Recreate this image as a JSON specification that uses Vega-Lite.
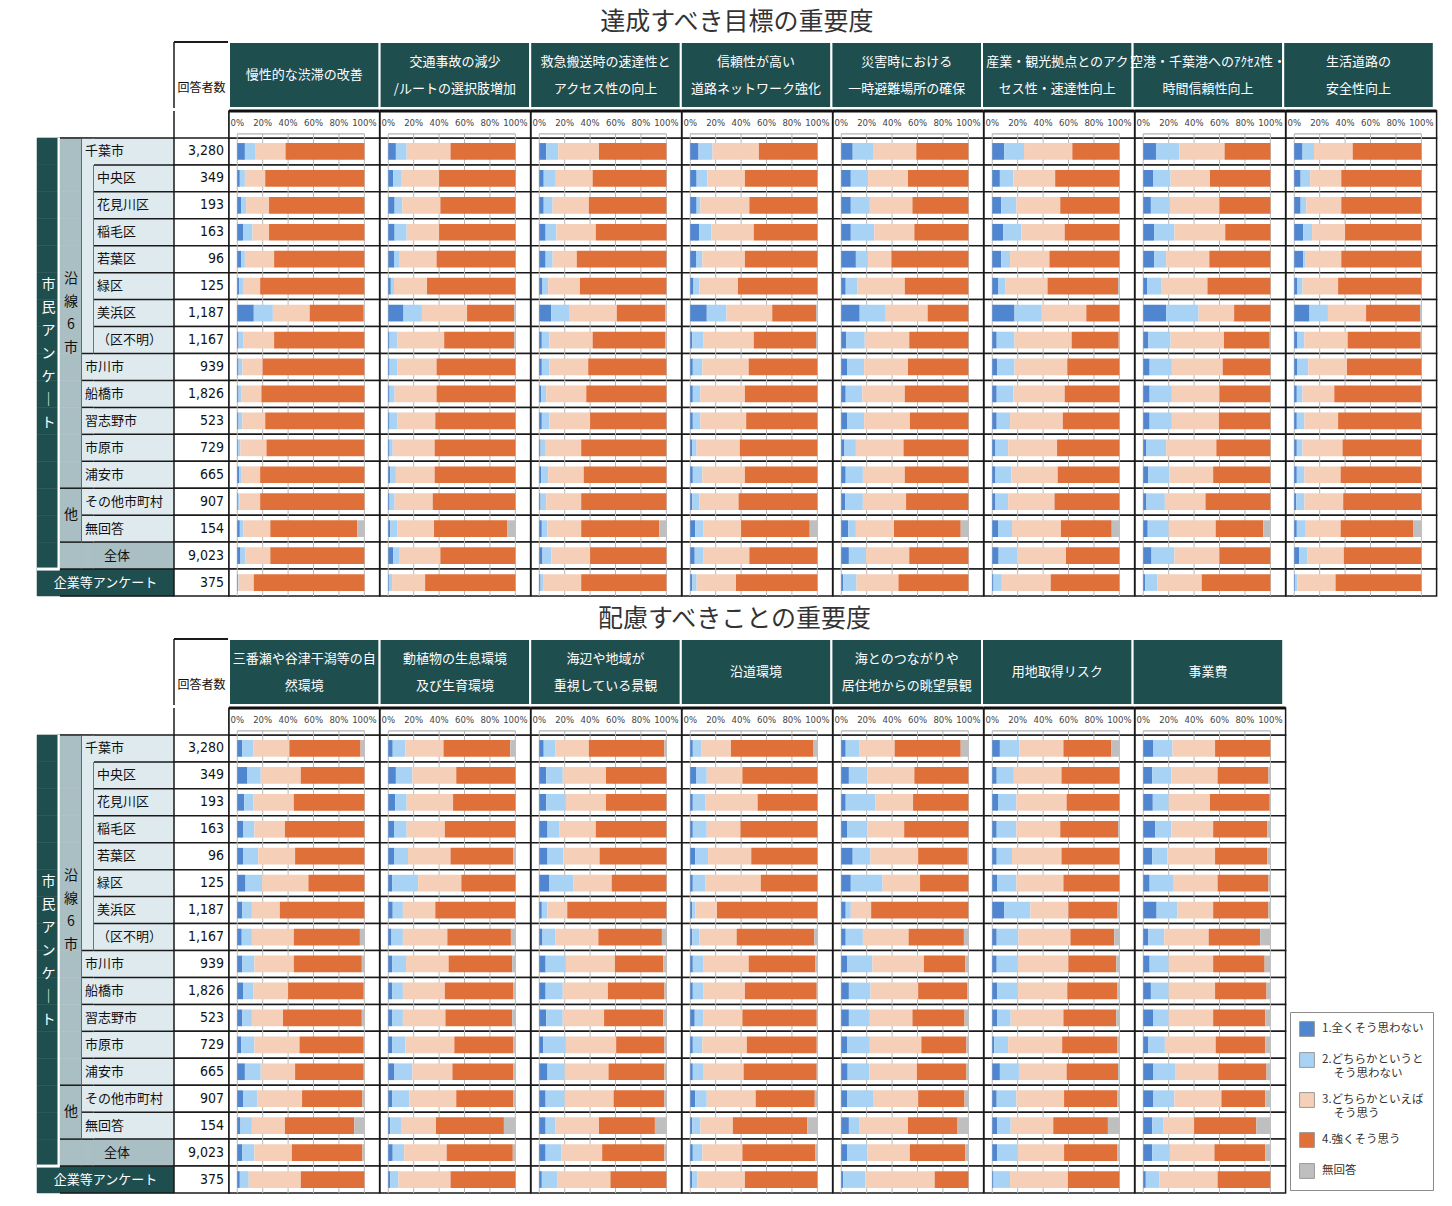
{
"$schema":"https://vega.github.io/schema/vega-lite/v6.json",
"background":"white",
"padding":{"left":35,"top":10,"right":5,"bottom":5},
"config":{"view":{"stroke":null},"font":"Noto Sans CJK JP","axis":{"disable":true},"title":{"font":"Noto Sans CJK JP","fontSize":25,"fontWeight":"normal","color":"#333333","anchor":"middle","offset":6}},
"datasets":{
"rows":[{"name":"千葉市","n":3280,"lv":"city"},{"name":"中央区","n":349,"lv":"ward"},{"name":"花見川区","n":193,"lv":"ward"},{"name":"稲毛区","n":163,"lv":"ward"},{"name":"若葉区","n":96,"lv":"ward"},{"name":"緑区","n":125,"lv":"ward"},{"name":"美浜区","n":1187,"lv":"ward"},{"name":"（区不明）","n":1167,"lv":"ward"},{"name":"市川市","n":939,"lv":"city"},{"name":"船橋市","n":1826,"lv":"city"},{"name":"習志野市","n":523,"lv":"city"},{"name":"市原市","n":729,"lv":"city"},{"name":"浦安市","n":665,"lv":"city"},{"name":"その他市町村","n":907,"lv":"other"},{"name":"無回答","n":154,"lv":"other"},{"name":"全体","n":9023,"lv":"total"},{"name":"企業等アンケート","n":375,"lv":"firm"}],
"ticks":[{"t":0,"lab":"0%"},{"t":20,"lab":"20%"},{"t":40,"lab":"40%"},{"t":60,"lab":"60%"},{"t":80,"lab":"80%"},{"t":100,"lab":"100%"}],
"goalItems":[{"item":"A1","label":"慢性的な渋滞の改善"},{"item":"A2","label":"交通事故の減少\n/ルートの選択肢増加"},{"item":"A3","label":"救急搬送時の速達性と\nアクセス性の向上"},{"item":"A4","label":"信頼性が高い\n道路ネットワーク強化"},{"item":"A5","label":"災害時における\n一時避難場所の確保"},{"item":"A6","label":"産業・観光拠点とのアク\nセス性・速達性向上"},{"item":"A7","label":"空港・千葉港へのｱｸｾｽ性・\n時間信頼性向上"},{"item":"A8","label":"生活道路の\n安全性向上"}],
"careItems":[{"item":"B1","label":"三番瀬や谷津干潟等の自\n然環境"},{"item":"B2","label":"動植物の生息環境\n及び生育環境"},{"item":"B3","label":"海辺や地域が\n重視している景観"},{"item":"B4","label":"沿道環境"},{"item":"B5","label":"海とのつながりや\n居住地からの眺望景観"},{"item":"B6","label":"用地取得リスク"},{"item":"B7","label":"事業費"}],
"goals":[
{"item":"A1","name":"千葉市","c1":6,"c2":8,"c3":24,"c4":62,"c5":0},
{"item":"A1","name":"中央区","c1":2,"c2":4,"c3":16,"c4":78,"c5":0},
{"item":"A1","name":"花見川区","c1":3,"c2":4,"c3":18,"c4":75,"c5":0},
{"item":"A1","name":"稲毛区","c1":4.5,"c2":7.5,"c3":13,"c4":75,"c5":0},
{"item":"A1","name":"若葉区","c1":3,"c2":3,"c3":23,"c4":71,"c5":0},
{"item":"A1","name":"緑区","c1":1.5,"c2":3,"c3":13.5,"c4":82,"c5":0},
{"item":"A1","name":"美浜区","c1":13,"c2":15,"c3":29,"c4":42.5,"c5":0.5},
{"item":"A1","name":"（区不明）","c1":1,"c2":4,"c3":24,"c4":71,"c5":0},
{"item":"A1","name":"市川市","c1":1,"c2":3,"c3":16,"c4":80,"c5":0},
{"item":"A1","name":"船橋市","c1":1,"c2":2,"c3":16,"c4":81,"c5":0},
{"item":"A1","name":"習志野市","c1":1,"c2":3,"c3":18,"c4":78,"c5":0},
{"item":"A1","name":"市原市","c1":0.5,"c2":2,"c3":20.5,"c4":77,"c5":0},
{"item":"A1","name":"浦安市","c1":1.5,"c2":2,"c3":14.5,"c4":82,"c5":0},
{"item":"A1","name":"その他市町村","c1":0.5,"c2":1,"c3":16.5,"c4":82,"c5":0},
{"item":"A1","name":"無回答","c1":2,"c2":3,"c3":21,"c4":68.5,"c5":5.5},
{"item":"A1","name":"全体","c1":2.5,"c2":4,"c3":19.5,"c4":74,"c5":0},
{"item":"A1","name":"企業等アンケート","c1":0.5,"c2":0.5,"c3":12,"c4":87,"c5":0},
{"item":"A2","name":"千葉市","c1":6,"c2":8.5,"c3":34.5,"c4":51,"c5":0},
{"item":"A2","name":"中央区","c1":4,"c2":6,"c3":30,"c4":60,"c5":0},
{"item":"A2","name":"花見川区","c1":5,"c2":6,"c3":30,"c4":59,"c5":0},
{"item":"A2","name":"稲毛区","c1":5,"c2":9.5,"c3":25.5,"c4":60,"c5":0},
{"item":"A2","name":"若葉区","c1":4.5,"c2":4.5,"c3":29,"c4":62,"c5":0},
{"item":"A2","name":"緑区","c1":2,"c2":2.5,"c3":26,"c4":69.5,"c5":0},
{"item":"A2","name":"美浜区","c1":12,"c2":14.5,"c3":35.5,"c4":37,"c5":1},
{"item":"A2","name":"（区不明）","c1":1,"c2":6,"c3":37,"c4":55,"c5":1},
{"item":"A2","name":"市川市","c1":1,"c2":6,"c3":31,"c4":62,"c5":0},
{"item":"A2","name":"船橋市","c1":1,"c2":4,"c3":33,"c4":62,"c5":0},
{"item":"A2","name":"習志野市","c1":1,"c2":6,"c3":30,"c4":63,"c5":0},
{"item":"A2","name":"市原市","c1":1,"c2":2.5,"c3":33,"c4":63.5,"c5":0},
{"item":"A2","name":"浦安市","c1":1.5,"c2":4.5,"c3":30.5,"c4":63.5,"c5":0},
{"item":"A2","name":"その他市町村","c1":1,"c2":4,"c3":30,"c4":65,"c5":0},
{"item":"A2","name":"無回答","c1":1.5,"c2":5.5,"c3":29,"c4":57.5,"c5":6.5},
{"item":"A2","name":"全体","c1":4,"c2":5,"c3":32,"c4":59,"c5":0},
{"item":"A2","name":"企業等アンケート","c1":0.5,"c2":2.5,"c3":26,"c4":71,"c5":0},
{"item":"A3","name":"千葉市","c1":5.5,"c2":9.5,"c3":32,"c4":53,"c5":0},
{"item":"A3","name":"中央区","c1":3.5,"c2":9.5,"c3":29,"c4":58,"c5":0},
{"item":"A3","name":"花見川区","c1":3.5,"c2":7,"c3":28.5,"c4":61,"c5":0},
{"item":"A3","name":"稲毛区","c1":5,"c2":8.5,"c3":31,"c4":55.5,"c5":0},
{"item":"A3","name":"若葉区","c1":5,"c2":5.5,"c3":19,"c4":70.5,"c5":0},
{"item":"A3","name":"緑区","c1":2.5,"c2":4.5,"c3":25,"c4":68,"c5":0},
{"item":"A3","name":"美浜区","c1":9.5,"c2":14.5,"c3":37,"c4":38,"c5":1},
{"item":"A3","name":"（区不明）","c1":2,"c2":6,"c3":34,"c4":57,"c5":1},
{"item":"A3","name":"市川市","c1":2,"c2":6,"c3":30.5,"c4":61.5,"c5":0},
{"item":"A3","name":"船橋市","c1":1.5,"c2":4,"c3":31.5,"c4":63,"c5":0},
{"item":"A3","name":"習志野市","c1":2,"c2":6,"c3":32,"c4":60,"c5":0},
{"item":"A3","name":"市原市","c1":1,"c2":3.5,"c3":28.5,"c4":67,"c5":0},
{"item":"A3","name":"浦安市","c1":1.5,"c2":5.5,"c3":28,"c4":65,"c5":0},
{"item":"A3","name":"その他市町村","c1":1,"c2":4.5,"c3":27.5,"c4":67,"c5":0},
{"item":"A3","name":"無回答","c1":2,"c2":4.5,"c3":26.5,"c4":61.5,"c5":5.5},
{"item":"A3","name":"全体","c1":2.5,"c2":7,"c3":30.5,"c4":60,"c5":0},
{"item":"A3","name":"企業等アンケート","c1":1,"c2":2.5,"c3":29.5,"c4":67,"c5":0},
{"item":"A4","name":"千葉市","c1":6.5,"c2":11,"c3":36.5,"c4":46,"c5":0},
{"item":"A4","name":"中央区","c1":5,"c2":8.5,"c3":29.5,"c4":57,"c5":0},
{"item":"A4","name":"花見川区","c1":5,"c2":3,"c3":38.5,"c4":53.5,"c5":0},
{"item":"A4","name":"稲毛区","c1":7,"c2":9.5,"c3":33.5,"c4":50,"c5":0},
{"item":"A4","name":"若葉区","c1":4.5,"c2":5,"c3":33.5,"c4":57,"c5":0},
{"item":"A4","name":"緑区","c1":2.5,"c2":4.5,"c3":30.5,"c4":62.5,"c5":0},
{"item":"A4","name":"美浜区","c1":13,"c2":15.5,"c3":36,"c4":34.5,"c5":1},
{"item":"A4","name":"（区不明）","c1":1.5,"c2":9,"c3":39.5,"c4":49,"c5":1},
{"item":"A4","name":"市川市","c1":2,"c2":7.5,"c3":36.5,"c4":54,"c5":0},
{"item":"A4","name":"船橋市","c1":2,"c2":6,"c3":35,"c4":57,"c5":0},
{"item":"A4","name":"習志野市","c1":2,"c2":6,"c3":36,"c4":56,"c5":0},
{"item":"A4","name":"市原市","c1":1.5,"c2":3.5,"c3":34,"c4":61,"c5":0},
{"item":"A4","name":"浦安市","c1":2,"c2":7.5,"c3":33.5,"c4":57,"c5":0},
{"item":"A4","name":"その他市町村","c1":1.5,"c2":5.5,"c3":31,"c4":62,"c5":0},
{"item":"A4","name":"無回答","c1":4,"c2":6.5,"c3":29.5,"c4":54,"c5":6},
{"item":"A4","name":"全体","c1":3.5,"c2":7,"c3":36,"c4":53.5,"c5":0},
{"item":"A4","name":"企業等アンケート","c1":1.5,"c2":3.5,"c3":31,"c4":64,"c5":0},
{"item":"A5","name":"千葉市","c1":9,"c2":16,"c3":34,"c4":41,"c5":0},
{"item":"A5","name":"中央区","c1":7.5,"c2":13.5,"c3":31.5,"c4":47.5,"c5":0},
{"item":"A5","name":"花見川区","c1":7.5,"c2":15,"c3":33.5,"c4":44,"c5":0},
{"item":"A5","name":"稲毛区","c1":7.5,"c2":18.5,"c3":31.5,"c4":42.5,"c5":0},
{"item":"A5","name":"若葉区","c1":11.5,"c2":9.5,"c3":18.5,"c4":60.5,"c5":0},
{"item":"A5","name":"緑区","c1":3.5,"c2":9,"c3":37.5,"c4":50,"c5":0},
{"item":"A5","name":"美浜区","c1":14.5,"c2":20.5,"c3":33,"c4":32,"c5":0},
{"item":"A5","name":"（区不明）","c1":4,"c2":14.5,"c3":35,"c4":46.5,"c5":0},
{"item":"A5","name":"市川市","c1":4.5,"c2":13.5,"c3":34.5,"c4":47.5,"c5":0},
{"item":"A5","name":"船橋市","c1":3.5,"c2":13,"c3":33.5,"c4":50,"c5":0},
{"item":"A5","name":"習志野市","c1":4.5,"c2":13.5,"c3":36,"c4":46,"c5":0},
{"item":"A5","name":"市原市","c1":2.5,"c2":9,"c3":37.5,"c4":51,"c5":0},
{"item":"A5","name":"浦安市","c1":3.5,"c2":13.5,"c3":33,"c4":50,"c5":0},
{"item":"A5","name":"その他市町村","c1":3,"c2":14,"c3":34,"c4":49,"c5":0},
{"item":"A5","name":"無回答","c1":5.5,"c2":6,"c3":30,"c4":52.5,"c5":6},
{"item":"A5","name":"全体","c1":6,"c2":13.5,"c3":34,"c4":46.5,"c5":0},
{"item":"A5","name":"企業等アンケート","c1":1.5,"c2":10.5,"c3":33,"c4":55,"c5":0},
{"item":"A6","name":"千葉市","c1":9.5,"c2":15.5,"c3":38,"c4":37,"c5":0},
{"item":"A6","name":"中央区","c1":6,"c2":10.5,"c3":33,"c4":50.5,"c5":0},
{"item":"A6","name":"花見川区","c1":7,"c2":12,"c3":34.5,"c4":46.5,"c5":0},
{"item":"A6","name":"稲毛区","c1":8.5,"c2":14.5,"c3":34,"c4":43,"c5":0},
{"item":"A6","name":"若葉区","c1":7,"c2":7,"c3":31,"c4":55,"c5":0},
{"item":"A6","name":"緑区","c1":4.5,"c2":6,"c3":33,"c4":55.5,"c5":1},
{"item":"A6","name":"美浜区","c1":17.5,"c2":21.5,"c3":35,"c4":26,"c5":0},
{"item":"A6","name":"（区不明）","c1":3.5,"c2":14,"c3":45,"c4":37,"c5":0.5},
{"item":"A6","name":"市川市","c1":4,"c2":13.5,"c3":41.5,"c4":41,"c5":0},
{"item":"A6","name":"船橋市","c1":3.5,"c2":13,"c3":40.5,"c4":43,"c5":0},
{"item":"A6","name":"習志野市","c1":3.5,"c2":10.5,"c3":41.5,"c4":44.5,"c5":0},
{"item":"A6","name":"市原市","c1":2.5,"c2":10,"c3":38.5,"c4":49,"c5":0},
{"item":"A6","name":"浦安市","c1":2.5,"c2":12.5,"c3":36.5,"c4":48.5,"c5":0},
{"item":"A6","name":"その他市町村","c1":2.5,"c2":10,"c3":36.5,"c4":51,"c5":0},
{"item":"A6","name":"無回答","c1":4.5,"c2":11,"c3":38.5,"c4":40,"c5":6},
{"item":"A6","name":"全体","c1":5,"c2":14.5,"c3":38.5,"c4":42,"c5":0},
{"item":"A6","name":"企業等アンケート","c1":1,"c2":6.5,"c3":38.5,"c4":54,"c5":0},
{"item":"A7","name":"千葉市","c1":10,"c2":18.5,"c3":35.5,"c4":36,"c5":0},
{"item":"A7","name":"中央区","c1":8,"c2":13.5,"c3":31,"c4":47.5,"c5":0},
{"item":"A7","name":"花見川区","c1":6,"c2":15,"c3":39,"c4":40,"c5":0},
{"item":"A7","name":"稲毛区","c1":8.5,"c2":16,"c3":40,"c4":35.5,"c5":0},
{"item":"A7","name":"若葉区","c1":8.5,"c2":9.5,"c3":34,"c4":48,"c5":0},
{"item":"A7","name":"緑区","c1":3,"c2":11.5,"c3":36,"c4":49.5,"c5":0},
{"item":"A7","name":"美浜区","c1":18,"c2":25.5,"c3":28,"c4":28.5,"c5":0},
{"item":"A7","name":"（区不明）","c1":4,"c2":17.5,"c3":42,"c4":36,"c5":0.5},
{"item":"A7","name":"市川市","c1":5,"c2":17.5,"c3":40,"c4":37.5,"c5":0},
{"item":"A7","name":"船橋市","c1":5,"c2":17.5,"c3":37.5,"c4":40,"c5":0},
{"item":"A7","name":"習志野市","c1":5,"c2":17.5,"c3":37,"c4":40.5,"c5":0},
{"item":"A7","name":"市原市","c1":2.5,"c2":15.5,"c3":39.5,"c4":42.5,"c5":0},
{"item":"A7","name":"浦安市","c1":4,"c2":16.5,"c3":34.5,"c4":45,"c5":0},
{"item":"A7","name":"その他市町村","c1":2.5,"c2":14.5,"c3":32,"c4":51,"c5":0},
{"item":"A7","name":"無回答","c1":3.5,"c2":16.5,"c3":37,"c4":37.5,"c5":5.5},
{"item":"A7","name":"全体","c1":6.5,"c2":18,"c3":35.5,"c4":40,"c5":0},
{"item":"A7","name":"企業等アンケート","c1":1.5,"c2":9.5,"c3":35,"c4":54,"c5":0},
{"item":"A8","name":"千葉市","c1":6.5,"c2":9,"c3":30.5,"c4":54,"c5":0},
{"item":"A8","name":"中央区","c1":5,"c2":7.5,"c3":24.5,"c4":63,"c5":0},
{"item":"A8","name":"花見川区","c1":5,"c2":4.5,"c3":27.5,"c4":63,"c5":0},
{"item":"A8","name":"稲毛区","c1":7,"c2":7,"c3":26,"c4":60,"c5":0},
{"item":"A8","name":"若葉区","c1":7,"c2":1.5,"c3":28.5,"c4":63,"c5":0},
{"item":"A8","name":"緑区","c1":2.5,"c2":4,"c3":28,"c4":65.5,"c5":0},
{"item":"A8","name":"美浜区","c1":12,"c2":14.5,"c3":30,"c4":42.5,"c5":1},
{"item":"A8","name":"（区不明）","c1":2.5,"c2":5.5,"c3":34,"c4":57.5,"c5":0.5},
{"item":"A8","name":"市川市","c1":2.5,"c2":8.5,"c3":30.5,"c4":58.5,"c5":0},
{"item":"A8","name":"船橋市","c1":2,"c2":4.5,"c3":25,"c4":68.5,"c5":0},
{"item":"A8","name":"習志野市","c1":2,"c2":6,"c3":26.5,"c4":65.5,"c5":0},
{"item":"A8","name":"市原市","c1":2,"c2":4.5,"c3":31.5,"c4":62,"c5":0},
{"item":"A8","name":"浦安市","c1":2,"c2":6,"c3":28.5,"c4":63.5,"c5":0},
{"item":"A8","name":"その他市町村","c1":1.5,"c2":6.5,"c3":30.5,"c4":61.5,"c5":0},
{"item":"A8","name":"無回答","c1":2,"c2":7,"c3":27.5,"c4":57,"c5":6.5},
{"item":"A8","name":"全体","c1":4,"c2":6.5,"c3":28.5,"c4":61,"c5":0},
{"item":"A8","name":"企業等アンケート","c1":0.5,"c2":2,"c3":30,"c4":67.5,"c5":0}
],
"care":[
{"item":"B1","name":"千葉市","c1":4,"c2":8.5,"c3":28.5,"c4":56,"c5":3},
{"item":"B1","name":"中央区","c1":8,"c2":10.5,"c3":31.5,"c4":50,"c5":0},
{"item":"B1","name":"花見川区","c1":5.5,"c2":7,"c3":32,"c4":55.5,"c5":0},
{"item":"B1","name":"稲毛区","c1":4.5,"c2":9,"c3":24,"c4":62.5,"c5":0},
{"item":"B1","name":"若葉区","c1":4.5,"c2":12,"c3":29,"c4":54.5,"c5":0},
{"item":"B1","name":"緑区","c1":6.5,"c2":13,"c3":36.5,"c4":44,"c5":0},
{"item":"B1","name":"美浜区","c1":4,"c2":7.5,"c3":22,"c4":66.5,"c5":0},
{"item":"B1","name":"（区不明）","c1":3.5,"c2":8,"c3":33,"c4":52,"c5":3.5},
{"item":"B1","name":"市川市","c1":4,"c2":9.5,"c3":31,"c4":53.5,"c5":2},
{"item":"B1","name":"船橋市","c1":4.5,"c2":8,"c3":27.5,"c4":59.5,"c5":0.5},
{"item":"B1","name":"習志野市","c1":4,"c2":7.5,"c3":24.5,"c4":62,"c5":2},
{"item":"B1","name":"市原市","c1":3,"c2":10.5,"c3":35.5,"c4":50.5,"c5":0.5},
{"item":"B1","name":"浦安市","c1":6,"c2":12.5,"c3":27,"c4":54,"c5":0.5},
{"item":"B1","name":"その他市町村","c1":4.5,"c2":11.5,"c3":35,"c4":47.5,"c5":1.5},
{"item":"B1","name":"無回答","c1":2.5,"c2":9,"c3":26,"c4":54.5,"c5":8},
{"item":"B1","name":"全体","c1":4,"c2":9.5,"c3":29.5,"c4":55.5,"c5":1.5},
{"item":"B1","name":"企業等アンケート","c1":2,"c2":7,"c3":41,"c4":50,"c5":0},
{"item":"B2","name":"千葉市","c1":3.5,"c2":10,"c3":30,"c4":52.5,"c5":4},
{"item":"B2","name":"中央区","c1":6,"c2":13,"c3":34.5,"c4":46.5,"c5":0},
{"item":"B2","name":"花見川区","c1":5.5,"c2":9,"c3":36.5,"c4":49,"c5":0},
{"item":"B2","name":"稲毛区","c1":4.5,"c2":10,"c3":30,"c4":55.5,"c5":0},
{"item":"B2","name":"若葉区","c1":4.5,"c2":11,"c3":33.5,"c4":49.5,"c5":1.5},
{"item":"B2","name":"緑区","c1":3,"c2":20.5,"c3":34,"c4":42.5,"c5":0},
{"item":"B2","name":"美浜区","c1":3.5,"c2":8,"c3":25.5,"c4":63,"c5":0},
{"item":"B2","name":"（区不明）","c1":2.5,"c2":9,"c3":35,"c4":50,"c5":3.5},
{"item":"B2","name":"市川市","c1":3,"c2":11,"c3":33.5,"c4":50,"c5":2.5},
{"item":"B2","name":"船橋市","c1":3,"c2":8.5,"c3":33,"c4":54,"c5":1.5},
{"item":"B2","name":"習志野市","c1":3,"c2":8.5,"c3":33.5,"c4":52.5,"c5":2.5},
{"item":"B2","name":"市原市","c1":3,"c2":10.5,"c3":38.5,"c4":46.5,"c5":1.5},
{"item":"B2","name":"浦安市","c1":4.5,"c2":14.5,"c3":31.5,"c4":48,"c5":1.5},
{"item":"B2","name":"その他市町村","c1":3,"c2":13.5,"c3":37,"c4":45,"c5":1.5},
{"item":"B2","name":"無回答","c1":1.5,"c2":8.5,"c3":27.5,"c4":53.5,"c5":9},
{"item":"B2","name":"全体","c1":3.5,"c2":9,"c3":33.5,"c4":52,"c5":2},
{"item":"B2","name":"企業等アンケート","c1":1.5,"c2":6.5,"c3":41,"c4":51,"c5":0},
{"item":"B3","name":"千葉市","c1":3.5,"c2":9,"c3":26.5,"c4":59.5,"c5":1.5},
{"item":"B3","name":"中央区","c1":5.5,"c2":13,"c3":34,"c4":47.5,"c5":0},
{"item":"B3","name":"花見川区","c1":5.5,"c2":15.5,"c3":31.5,"c4":47.5,"c5":0},
{"item":"B3","name":"稲毛区","c1":6.5,"c2":9.5,"c3":28.5,"c4":55.5,"c5":0},
{"item":"B3","name":"若葉区","c1":6.5,"c2":12.5,"c3":28.5,"c4":52.5,"c5":0},
{"item":"B3","name":"緑区","c1":8,"c2":19,"c3":30,"c4":43,"c5":0},
{"item":"B3","name":"美浜区","c1":2,"c2":4.5,"c3":15.5,"c4":78,"c5":0},
{"item":"B3","name":"（区不明）","c1":2.5,"c2":10,"c3":34,"c4":50,"c5":3.5},
{"item":"B3","name":"市川市","c1":5,"c2":16,"c3":38.5,"c4":38,"c5":2.5},
{"item":"B3","name":"船橋市","c1":5,"c2":13.5,"c3":35.5,"c4":44.5,"c5":1.5},
{"item":"B3","name":"習志野市","c1":5.5,"c2":13,"c3":32.5,"c4":46.5,"c5":2.5},
{"item":"B3","name":"市原市","c1":3,"c2":18,"c3":39.5,"c4":38,"c5":1.5},
{"item":"B3","name":"浦安市","c1":6.5,"c2":13.5,"c3":34.5,"c4":44,"c5":1.5},
{"item":"B3","name":"その他市町村","c1":5,"c2":15,"c3":38.5,"c4":40,"c5":1.5},
{"item":"B3","name":"無回答","c1":5,"c2":7.5,"c3":34.5,"c4":44,"c5":9},
{"item":"B3","name":"全体","c1":5,"c2":12.5,"c3":32,"c4":49,"c5":1.5},
{"item":"B3","name":"企業等アンケート","c1":2,"c2":12.5,"c3":41.5,"c4":44,"c5":0},
{"item":"B4","name":"千葉市","c1":2,"c2":6.5,"c3":23.5,"c4":65,"c5":3},
{"item":"B4","name":"中央区","c1":4.5,"c2":8.5,"c3":28,"c4":59,"c5":0},
{"item":"B4","name":"花見川区","c1":2,"c2":10,"c3":41,"c4":47,"c5":0},
{"item":"B4","name":"稲毛区","c1":2,"c2":11,"c3":26.5,"c4":60.5,"c5":0},
{"item":"B4","name":"若葉区","c1":4,"c2":10,"c3":34,"c4":52,"c5":0},
{"item":"B4","name":"緑区","c1":2,"c2":10,"c3":43.5,"c4":44.5,"c5":0},
{"item":"B4","name":"美浜区","c1":1.5,"c2":2.5,"c3":17,"c4":79,"c5":0},
{"item":"B4","name":"（区不明）","c1":1.5,"c2":5.5,"c3":29.5,"c4":61,"c5":2.5},
{"item":"B4","name":"市川市","c1":2,"c2":8.5,"c3":35.5,"c4":52.5,"c5":1.5},
{"item":"B4","name":"船橋市","c1":2,"c2":8.5,"c3":32.5,"c4":56.5,"c5":0.5},
{"item":"B4","name":"習志野市","c1":3.5,"c2":7,"c3":30.5,"c4":58.5,"c5":0.5},
{"item":"B4","name":"市原市","c1":2,"c2":7.5,"c3":35,"c4":55,"c5":0.5},
{"item":"B4","name":"浦安市","c1":2,"c2":8,"c3":32,"c4":57.5,"c5":0.5},
{"item":"B4","name":"その他市町村","c1":4,"c2":9,"c3":38.5,"c4":46.5,"c5":2},
{"item":"B4","name":"無回答","c1":1.5,"c2":6.5,"c3":25.5,"c4":58.5,"c5":8},
{"item":"B4","name":"全体","c1":2,"c2":7.5,"c3":31.5,"c4":57.5,"c5":1.5},
{"item":"B4","name":"企業等アンケート","c1":1.5,"c2":4,"c3":37.5,"c4":57,"c5":0},
{"item":"B5","name":"千葉市","c1":3.5,"c2":11,"c3":27.5,"c4":52,"c5":6},
{"item":"B5","name":"中央区","c1":6,"c2":14.5,"c3":37,"c4":42.5,"c5":0},
{"item":"B5","name":"花見川区","c1":3.5,"c2":23.5,"c3":29.5,"c4":43.5,"c5":0},
{"item":"B5","name":"稲毛区","c1":4.5,"c2":16,"c3":29,"c4":50.5,"c5":0},
{"item":"B5","name":"若葉区","c1":9,"c2":14,"c3":37.5,"c4":39,"c5":0.5},
{"item":"B5","name":"緑区","c1":7.5,"c2":25,"c3":29.5,"c4":38,"c5":0},
{"item":"B5","name":"美浜区","c1":3.5,"c2":4,"c3":16,"c4":76.5,"c5":0},
{"item":"B5","name":"（区不明）","c1":3.5,"c2":13.5,"c3":36,"c4":43.5,"c5":3.5},
{"item":"B5","name":"市川市","c1":4.5,"c2":20,"c3":40.5,"c4":32.5,"c5":2.5},
{"item":"B5","name":"船橋市","c1":6,"c2":17,"c3":37.5,"c4":38.5,"c5":1},
{"item":"B5","name":"習志野市","c1":6,"c2":16.5,"c3":33.5,"c4":41,"c5":3},
{"item":"B5","name":"市原市","c1":4.5,"c2":18,"c3":40.5,"c4":35.5,"c5":1.5},
{"item":"B5","name":"浦安市","c1":5,"c2":17,"c3":37.5,"c4":39,"c5":1.5},
{"item":"B5","name":"その他市町村","c1":4.5,"c2":20.5,"c3":35.5,"c4":36.5,"c5":3},
{"item":"B5","name":"無回答","c1":6,"c2":8,"c3":38.5,"c4":39,"c5":8.5},
{"item":"B5","name":"全体","c1":4.5,"c2":16,"c3":33.5,"c4":43.5,"c5":2.5},
{"item":"B5","name":"企業等アンケート","c1":1.5,"c2":17.5,"c3":54.5,"c4":26.5,"c5":0},
{"item":"B6","name":"千葉市","c1":6,"c2":15.5,"c3":34.5,"c4":37.5,"c5":6.5},
{"item":"B6","name":"中央区","c1":3.5,"c2":13.5,"c3":37.5,"c4":45.5,"c5":0},
{"item":"B6","name":"花見川区","c1":4.5,"c2":14.5,"c3":39.5,"c4":41.5,"c5":0},
{"item":"B6","name":"稲毛区","c1":3.5,"c2":15.5,"c3":34.5,"c4":45.5,"c5":1},
{"item":"B6","name":"若葉区","c1":3.5,"c2":12,"c3":39,"c4":45.5,"c5":0},
{"item":"B6","name":"緑区","c1":4,"c2":15,"c3":37,"c4":44,"c5":0},
{"item":"B6","name":"美浜区","c1":9.5,"c2":20.5,"c3":30,"c4":38.5,"c5":1.5},
{"item":"B6","name":"（区不明）","c1":3.5,"c2":17,"c3":41,"c4":34.5,"c5":4},
{"item":"B6","name":"市川市","c1":3.5,"c2":16.5,"c3":40,"c4":37.5,"c5":2.5},
{"item":"B6","name":"船橋市","c1":4,"c2":16,"c3":39,"c4":39.5,"c5":1.5},
{"item":"B6","name":"習志野市","c1":4,"c2":10.5,"c3":41.5,"c4":41.5,"c5":2.5},
{"item":"B6","name":"市原市","c1":1.5,"c2":11,"c3":42.5,"c4":43.5,"c5":1.5},
{"item":"B6","name":"浦安市","c1":6,"c2":15,"c3":37.5,"c4":40.5,"c5":1},
{"item":"B6","name":"その他市町村","c1":3.5,"c2":15.5,"c3":37.5,"c4":42,"c5":1.5},
{"item":"B6","name":"無回答","c1":4,"c2":10.5,"c3":33.5,"c4":43,"c5":9},
{"item":"B6","name":"全体","c1":4,"c2":16,"c3":36.5,"c4":42,"c5":1.5},
{"item":"B6","name":"企業等アンケート","c1":1,"c2":13,"c3":45.5,"c4":40.5,"c5":0},
{"item":"B7","name":"千葉市","c1":8,"c2":15,"c3":33.5,"c4":43.5,"c5":0},
{"item":"B7","name":"中央区","c1":7,"c2":15,"c3":36.5,"c4":40,"c5":1.5},
{"item":"B7","name":"花見川区","c1":7.5,"c2":12.5,"c3":32.5,"c4":47,"c5":0.5},
{"item":"B7","name":"稲毛区","c1":9.5,"c2":12.5,"c3":33,"c4":42.5,"c5":2.5},
{"item":"B7","name":"若葉区","c1":7,"c2":12,"c3":37.5,"c4":41,"c5":2.5},
{"item":"B7","name":"緑区","c1":5,"c2":19,"c3":34.5,"c4":40,"c5":1.5},
{"item":"B7","name":"美浜区","c1":10.5,"c2":16.5,"c3":28,"c4":43.5,"c5":1.5},
{"item":"B7","name":"（区不明）","c1":4,"c2":12.5,"c3":35,"c4":40.5,"c5":8},
{"item":"B7","name":"市川市","c1":5,"c2":15,"c3":35,"c4":40.5,"c5":4.5},
{"item":"B7","name":"船橋市","c1":6,"c2":14,"c3":36.5,"c4":40.5,"c5":3},
{"item":"B7","name":"習志野市","c1":8,"c2":12,"c3":35,"c4":41,"c5":4},
{"item":"B7","name":"市原市","c1":4,"c2":13,"c3":40,"c4":39,"c5":4},
{"item":"B7","name":"浦安市","c1":8,"c2":17.5,"c3":33.5,"c4":38,"c5":3},
{"item":"B7","name":"その他市町村","c1":8,"c2":16.5,"c3":37,"c4":34.5,"c5":4},
{"item":"B7","name":"無回答","c1":7,"c2":9,"c3":24,"c4":49,"c5":11},
{"item":"B7","name":"全体","c1":7,"c2":14,"c3":35,"c4":40,"c5":4},
{"item":"B7","name":"企業等アンケート","c1":2,"c2":10.5,"c3":46,"c4":41.5,"c5":0}
]
},
"spacing":10,
"resolve":{"legend":{"color":"independent"}},
"vconcat":[
{"title":{"text":"達成すべき目標の重要度"},"spacing":0,"resolve":{"legend":{"color":"independent"}},
"vconcat":[
{"hconcat":[
{"width":137,"height":66,"data":{"values":[{}]},"mark":{"type":"rect","fill":"white","opacity":0},"encoding":{"x":{"value":0},"x2":{"value":"width"},"y":{"value":0},"y2":{"value":"height"}}},
{"width":55,"height":66,"data":{"values":[{}]},"encoding":{"x":{"datum":"h","type":"nominal","scale":{"type":"band","paddingInner":0,"paddingOuter":0},"axis":null},"y":{"datum":"h","type":"nominal","scale":{"type":"band","paddingInner":0,"paddingOuter":0},"axis":null}},"layer":[
{"mark":{"type":"rect","fill":"white"}},
{"mark":{"type":"rule","stroke":"#1a1a1a","strokeWidth":1.5},"encoding":{"x":{"value":0},"y":{"value":0},"y2":{"value":"height"}}},
{"mark":{"type":"rule","stroke":"#1a1a1a","strokeWidth":1.5},"encoding":{"x":{"value":"width"},"y":{"value":0},"y2":{"value":"height"}}},
{"mark":{"type":"rule","stroke":"#1a1a1a","strokeWidth":2},"encoding":{"x":{"value":0},"x2":{"value":"width"},"y":{"value":0}}},
{"mark":{"type":"text","text":"回答者数","fontSize":12,"fill":"#111111","align":"center","baseline":"middle"},"encoding":{"y":{"datum":"h","type":"nominal","bandPosition":0.7}}}
]},
{"width":1204.8,"height":66,"data":{"name":"goalItems"},"encoding":{"x":{"field":"item","type":"nominal","sort":null,"scale":{"type":"band","paddingInner":0,"paddingOuter":0},"axis":null},"y":{"datum":"h","type":"nominal","scale":{"type":"band","paddingInner":0,"paddingOuter":0},"axis":null}},"layer":[
{"mark":{"type":"rect","fill":"#1f4e4f","stroke":"white","strokeWidth":2}},
{"transform":[{"filter":"indexof(datum.label, '\\n') >= 0"}],"mark":{"type":"text","fill":"white","fontSize":13,"lineBreak":"\n","lineHeight":27,"dy":-13.5,"align":"center","baseline":"middle"},"encoding":{"text":{"field":"label"}}},
{"transform":[{"filter":"indexof(datum.label, '\\n') < 0"}],"mark":{"type":"text","fill":"white","fontSize":13,"align":"center","baseline":"middle"},"encoding":{"text":{"field":"label"}}}
]}
],"spacing":0,"bounds":"flush"},
{"hconcat":[
{"width":23,"height":485,"layer":[
{"data":{"name":"rows"},"mark":{"type":"rect","fill":"#1f4e4f","stroke":"#1f4e4f","strokeWidth":0.5},"encoding":{"y":{"field":"name","type":"nominal","scale":{"type":"band","domain":["axis","千葉市","中央区","花見川区","稲毛区","若葉区","緑区","美浜区","（区不明）","市川市","船橋市","習志野市","市原市","浦安市","その他市町村","無回答","全体","企業等アンケート"],"paddingInner":0,"paddingOuter":0},"axis":null},"x":{"value":0},"x2":{"value":"width"}}},
{"data":{"values":[{}]},"mark":{"type":"rule","stroke":"white","strokeWidth":3},"encoding":{"y":{"datum":"企業等アンケート","type":"nominal","bandPosition":0},"x":{"value":0},"x2":{"value":"width"}}},
{"data":{"values":[{}]},"mark":{"type":"rule","stroke":"white","strokeWidth":5},"encoding":{"x":{"value":"width"},"y":{"datum":"千葉市","type":"nominal","bandPosition":0},"y2":{"datum":"全体","bandPosition":1}}},
{"data":{"values":[{}]},"mark":{"type":"text","text":"市\n民\nア\nン\nケ\n｜\nト","lineBreak":"\n","lineHeight":23,"dy":-69,"fontSize":14,"fill":"white","align":"center","baseline":"middle"},"encoding":{"x":{"datum":"c","type":"nominal","scale":{"type":"band","paddingInner":0,"paddingOuter":0},"axis":null},"y":{"datum":"（区不明）","type":"nominal","bandPosition":1}}}
]},
{"width":22,"height":485,"layer":[
{"data":{"name":"rows"},"mark":{"type":"rect","strokeWidth":0.5},"encoding":{"y":{"field":"name","type":"nominal","scale":{"type":"band","domain":["axis","千葉市","中央区","花見川区","稲毛区","若葉区","緑区","美浜区","（区不明）","市川市","船橋市","習志野市","市原市","浦安市","その他市町村","無回答","全体","企業等アンケート"],"paddingInner":0,"paddingOuter":0},"axis":null},"x":{"value":0},"x2":{"value":"width"},"fill":{"condition":{"test":"datum.lv=='firm'","value":"#1f4e4f"},"value":"#a9bfc3"},"stroke":{"condition":{"test":"datum.lv=='firm'","value":"#1f4e4f"},"value":"#a9bfc3"}}},
{"data":{"name":"rows"},"transform":[{"filter":"indexof(['千葉市','その他市町村','全体','企業等アンケート'], datum.name) >= 0"}],"mark":{"type":"rule","stroke":"#1a1a1a","strokeWidth":1.5},"encoding":{"y":{"field":"name","type":"nominal","bandPosition":0},"x":{"value":0},"x2":{"value":"width"}}},
{"data":{"values":[{}]},"mark":{"type":"rule","stroke":"#1a1a1a","strokeWidth":1.5},"encoding":{"y":{"datum":"企業等アンケート","type":"nominal","bandPosition":1},"x":{"value":0},"x2":{"value":"width"}}},
{"data":{"values":[{}]},"mark":{"type":"rule","stroke":"#1a1a1a","strokeWidth":1.5},"encoding":{"x":{"value":"width"},"y":{"datum":"千葉市","type":"nominal","bandPosition":0},"y2":{"datum":"無回答","bandPosition":1}}},
{"data":{"values":[{}]},"mark":{"type":"text","text":"沿\n線\n6\n市","lineBreak":"\n","lineHeight":23,"dy":-34.5,"fontSize":14,"fill":"#111111","align":"center","baseline":"middle"},"encoding":{"x":{"datum":"c","type":"nominal","scale":{"type":"band","paddingInner":0,"paddingOuter":0},"axis":null},"y":{"datum":"美浜区","type":"nominal","bandPosition":0.5}}},
{"data":{"values":[{}]},"mark":{"type":"text","text":"他","fontSize":14,"fill":"#111111","align":"center","baseline":"middle"},"encoding":{"x":{"datum":"c","type":"nominal"},"y":{"datum":"その他市町村","type":"nominal","bandPosition":1}}}
]},
{"width":12,"height":485,"layer":[
{"data":{"name":"rows"},"mark":{"type":"rect","strokeWidth":0.5},"encoding":{"y":{"field":"name","type":"nominal","scale":{"type":"band","domain":["axis","千葉市","中央区","花見川区","稲毛区","若葉区","緑区","美浜区","（区不明）","市川市","船橋市","習志野市","市原市","浦安市","その他市町村","無回答","全体","企業等アンケート"],"paddingInner":0,"paddingOuter":0},"axis":null},"x":{"value":0},"x2":{"value":"width"},"fill":{"condition":[{"test":"datum.lv=='firm'","value":"#1f4e4f"},{"test":"datum.lv=='total'","value":"#a9bfc3"}],"value":"#dfeaee"},"stroke":{"condition":[{"test":"datum.lv=='firm'","value":"#1f4e4f"},{"test":"datum.lv=='total'","value":"#a9bfc3"}],"value":"#dfeaee"}}},
{"data":{"name":"rows"},"transform":[{"filter":"datum.lv != 'ward'"}],"mark":{"type":"rule","stroke":"#1a1a1a","strokeWidth":1.5},"encoding":{"y":{"field":"name","type":"nominal","bandPosition":0},"x":{"value":0},"x2":{"value":"width"}}},
{"data":{"values":[{}]},"mark":{"type":"rule","stroke":"#1a1a1a","strokeWidth":1.5},"encoding":{"y":{"datum":"企業等アンケート","type":"nominal","bandPosition":1},"x":{"value":0},"x2":{"value":"width"}}},
{"data":{"values":[{}]},"mark":{"type":"rule","stroke":"#1a1a1a","strokeWidth":1.5},"encoding":{"x":{"value":"width"},"y":{"datum":"中央区","type":"nominal","bandPosition":0},"y2":{"datum":"（区不明）","bandPosition":1}}}
]},
{"width":80,"height":485,"layer":[
{"data":{"name":"rows"},"mark":{"type":"rect","strokeWidth":0.5},"encoding":{"y":{"field":"name","type":"nominal","scale":{"type":"band","domain":["axis","千葉市","中央区","花見川区","稲毛区","若葉区","緑区","美浜区","（区不明）","市川市","船橋市","習志野市","市原市","浦安市","その他市町村","無回答","全体","企業等アンケート"],"paddingInner":0,"paddingOuter":0},"axis":null},"x":{"value":0},"x2":{"value":"width"},"fill":{"condition":[{"test":"datum.lv=='firm'","value":"#1f4e4f"},{"test":"datum.lv=='total'","value":"#a9bfc3"}],"value":"#dfeaee"},"stroke":{"condition":[{"test":"datum.lv=='firm'","value":"#1f4e4f"},{"test":"datum.lv=='total'","value":"#a9bfc3"}],"value":"#dfeaee"}}},
{"data":{"name":"rows"},"mark":{"type":"rule","stroke":"#1a1a1a","strokeWidth":1.5},"encoding":{"y":{"field":"name","type":"nominal","bandPosition":0},"x":{"value":0},"x2":{"value":"width"}}},
{"data":{"values":[{}]},"mark":{"type":"rule","stroke":"#1a1a1a","strokeWidth":1.5},"encoding":{"y":{"datum":"企業等アンケート","type":"nominal","bandPosition":1},"x":{"value":0},"x2":{"value":"width"}}},
{"data":{"name":"rows"},"transform":[{"filter":"datum.lv=='city' || datum.lv=='other'"}],"mark":{"type":"text","fontSize":13,"fill":"#111111","align":"left","baseline":"middle","dx":-9},"encoding":{"y":{"field":"name","type":"nominal"},"x":{"value":0},"text":{"field":"name"}}},
{"data":{"name":"rows"},"transform":[{"filter":"datum.lv=='ward'"}],"mark":{"type":"text","fontSize":13,"fill":"#111111","align":"left","baseline":"middle","dx":3},"encoding":{"y":{"field":"name","type":"nominal"},"x":{"value":0},"text":{"field":"name"}}},
{"data":{"name":"rows"},"transform":[{"filter":"datum.lv=='total'"}],"mark":{"type":"text","fontSize":13,"fill":"#111111","align":"center","baseline":"middle","dx":23},"encoding":{"y":{"field":"name","type":"nominal"},"x":{"value":0},"text":{"field":"name"}}},
{"data":{"name":"rows"},"transform":[{"filter":"datum.lv=='firm'"}],"mark":{"type":"text","fontSize":13,"fill":"white","align":"center","baseline":"middle","dx":11.5},"encoding":{"y":{"field":"name","type":"nominal"},"x":{"value":0},"text":{"field":"name"}}}
]},
{"width":55,"height":485,"layer":[
{"data":{"name":"rows"},"mark":{"type":"rect","fill":"white","stroke":"#1a1a1a","strokeWidth":1.5},"encoding":{"y":{"field":"name","type":"nominal","scale":{"type":"band","domain":["axis","千葉市","中央区","花見川区","稲毛区","若葉区","緑区","美浜区","（区不明）","市川市","船橋市","習志野市","市原市","浦安市","その他市町村","無回答","全体","企業等アンケート"],"paddingInner":0,"paddingOuter":0},"axis":null},"x":{"value":0},"x2":{"value":"width"}}},
{"data":{"values":[{}]},"mark":{"type":"rule","stroke":"#1a1a1a","strokeWidth":1.5},"encoding":{"x":{"value":0},"y":{"datum":"axis","type":"nominal","bandPosition":0},"y2":{"datum":"千葉市","bandPosition":0}}},
{"data":{"values":[{}]},"mark":{"type":"rule","stroke":"#1a1a1a","strokeWidth":1.5},"encoding":{"x":{"value":"width"},"y":{"datum":"axis","type":"nominal","bandPosition":0},"y2":{"datum":"千葉市","bandPosition":0}}},
{"data":{"name":"rows"},"mark":{"type":"text","font":"Liberation Sans Narrow, DejaVu Sans Condensed, Liberation Sans","fontSize":14,"fill":"#111111","align":"right","baseline":"middle","dx":-5},"encoding":{"y":{"field":"name","type":"nominal"},"x":{"value":"width"},"text":{"field":"n","format":","}}}
]},
{"width":150.6,"height":485,"layer":[
{"data":{"name":"rows"},"mark":{"type":"rect","fill":"white","stroke":"#1a1a1a","strokeWidth":1.5},"encoding":{"y":{"field":"name","type":"nominal","scale":{"type":"band","domain":["axis","千葉市","中央区","花見川区","稲毛区","若葉区","緑区","美浜区","（区不明）","市川市","船橋市","習志野市","市原市","浦安市","その他市町村","無回答","全体","企業等アンケート"],"paddingInner":0,"paddingOuter":0},"axis":null},"x":{"value":0},"x2":{"value":"width"}}},
{"data":{"values":[{}]},"mark":{"type":"rect","fill":"white","stroke":"#1a1a1a","strokeWidth":1.5},"encoding":{"y":{"datum":"axis","type":"nominal"},"x":{"value":0},"x2":{"value":"width"}}},
{"data":{"name":"ticks"},"mark":{"type":"rule","stroke":"#b8b8b8","strokeWidth":1},"encoding":{"x":{"field":"t","type":"quantitative","scale":{"domain":[-6.5,112],"nice":false,"zero":false},"axis":null},"y":{"datum":"axis","type":"nominal","bandPosition":0.85},"y2":{"value":"height"}}},
{"data":{"values":[{}]},"mark":{"type":"rule","stroke":"#a0a0a0","strokeWidth":1},"encoding":{"x":{"datum":0,"type":"quantitative"},"x2":{"datum":100},"y":{"datum":"axis","type":"nominal","bandPosition":0.85}}},
{"data":{"name":"ticks"},"mark":{"type":"text","font":"Liberation Sans Narrow, DejaVu Sans Condensed, Liberation Sans","fontSize":9.5,"fill":"#444444","align":"center","baseline":"middle"},"encoding":{"x":{"field":"t","type":"quantitative"},"y":{"datum":"axis","type":"nominal","bandPosition":0.45},"text":{"field":"lab"}}},
{"data":{"values":[{}]},"mark":{"type":"rule","stroke":"#111111","strokeWidth":3},"encoding":{"y":{"datum":"axis","type":"nominal","bandPosition":0},"x":{"value":0},"x2":{"value":"width"}}},
{"data":{"name":"goals"},"transform":[{"filter":"datum.item=='A1'"},{"fold":["c1","c2","c3","c4","c5"],"as":["cat","pct"]}],"mark":{"type":"bar","height":{"band":0.62}},"encoding":{"y":{"field":"name","type":"nominal","axis":null},"x":{"field":"pct","type":"quantitative","stack":"zero","scale":{"domain":[-6.5,112],"nice":false,"zero":false},"axis":null},"color":{"field":"cat","type":"nominal","scale":{"domain":["c1","c2","c3","c4","c5"],"range":["#4f86cf","#a8d3f4","#f6cfb9","#e0703a","#bfbfbf"]},"legend":null}}}
]},
{"width":150.6,"height":485,"layer":[
{"data":{"name":"rows"},"mark":{"type":"rect","fill":"white","stroke":"#1a1a1a","strokeWidth":1.5},"encoding":{"y":{"field":"name","type":"nominal","scale":{"type":"band","domain":["axis","千葉市","中央区","花見川区","稲毛区","若葉区","緑区","美浜区","（区不明）","市川市","船橋市","習志野市","市原市","浦安市","その他市町村","無回答","全体","企業等アンケート"],"paddingInner":0,"paddingOuter":0},"axis":null},"x":{"value":0},"x2":{"value":"width"}}},
{"data":{"values":[{}]},"mark":{"type":"rect","fill":"white","stroke":"#1a1a1a","strokeWidth":1.5},"encoding":{"y":{"datum":"axis","type":"nominal"},"x":{"value":0},"x2":{"value":"width"}}},
{"data":{"name":"ticks"},"mark":{"type":"rule","stroke":"#b8b8b8","strokeWidth":1},"encoding":{"x":{"field":"t","type":"quantitative","scale":{"domain":[-6.5,112],"nice":false,"zero":false},"axis":null},"y":{"datum":"axis","type":"nominal","bandPosition":0.85},"y2":{"value":"height"}}},
{"data":{"values":[{}]},"mark":{"type":"rule","stroke":"#a0a0a0","strokeWidth":1},"encoding":{"x":{"datum":0,"type":"quantitative"},"x2":{"datum":100},"y":{"datum":"axis","type":"nominal","bandPosition":0.85}}},
{"data":{"name":"ticks"},"mark":{"type":"text","font":"Liberation Sans Narrow, DejaVu Sans Condensed, Liberation Sans","fontSize":9.5,"fill":"#444444","align":"center","baseline":"middle"},"encoding":{"x":{"field":"t","type":"quantitative"},"y":{"datum":"axis","type":"nominal","bandPosition":0.45},"text":{"field":"lab"}}},
{"data":{"values":[{}]},"mark":{"type":"rule","stroke":"#111111","strokeWidth":3},"encoding":{"y":{"datum":"axis","type":"nominal","bandPosition":0},"x":{"value":0},"x2":{"value":"width"}}},
{"data":{"name":"goals"},"transform":[{"filter":"datum.item=='A2'"},{"fold":["c1","c2","c3","c4","c5"],"as":["cat","pct"]}],"mark":{"type":"bar","height":{"band":0.62}},"encoding":{"y":{"field":"name","type":"nominal","axis":null},"x":{"field":"pct","type":"quantitative","stack":"zero","scale":{"domain":[-6.5,112],"nice":false,"zero":false},"axis":null},"color":{"field":"cat","type":"nominal","scale":{"domain":["c1","c2","c3","c4","c5"],"range":["#4f86cf","#a8d3f4","#f6cfb9","#e0703a","#bfbfbf"]},"legend":null}}}
]},
{"width":150.6,"height":485,"layer":[
{"data":{"name":"rows"},"mark":{"type":"rect","fill":"white","stroke":"#1a1a1a","strokeWidth":1.5},"encoding":{"y":{"field":"name","type":"nominal","scale":{"type":"band","domain":["axis","千葉市","中央区","花見川区","稲毛区","若葉区","緑区","美浜区","（区不明）","市川市","船橋市","習志野市","市原市","浦安市","その他市町村","無回答","全体","企業等アンケート"],"paddingInner":0,"paddingOuter":0},"axis":null},"x":{"value":0},"x2":{"value":"width"}}},
{"data":{"values":[{}]},"mark":{"type":"rect","fill":"white","stroke":"#1a1a1a","strokeWidth":1.5},"encoding":{"y":{"datum":"axis","type":"nominal"},"x":{"value":0},"x2":{"value":"width"}}},
{"data":{"name":"ticks"},"mark":{"type":"rule","stroke":"#b8b8b8","strokeWidth":1},"encoding":{"x":{"field":"t","type":"quantitative","scale":{"domain":[-6.5,112],"nice":false,"zero":false},"axis":null},"y":{"datum":"axis","type":"nominal","bandPosition":0.85},"y2":{"value":"height"}}},
{"data":{"values":[{}]},"mark":{"type":"rule","stroke":"#a0a0a0","strokeWidth":1},"encoding":{"x":{"datum":0,"type":"quantitative"},"x2":{"datum":100},"y":{"datum":"axis","type":"nominal","bandPosition":0.85}}},
{"data":{"name":"ticks"},"mark":{"type":"text","font":"Liberation Sans Narrow, DejaVu Sans Condensed, Liberation Sans","fontSize":9.5,"fill":"#444444","align":"center","baseline":"middle"},"encoding":{"x":{"field":"t","type":"quantitative"},"y":{"datum":"axis","type":"nominal","bandPosition":0.45},"text":{"field":"lab"}}},
{"data":{"values":[{}]},"mark":{"type":"rule","stroke":"#111111","strokeWidth":3},"encoding":{"y":{"datum":"axis","type":"nominal","bandPosition":0},"x":{"value":0},"x2":{"value":"width"}}},
{"data":{"name":"goals"},"transform":[{"filter":"datum.item=='A3'"},{"fold":["c1","c2","c3","c4","c5"],"as":["cat","pct"]}],"mark":{"type":"bar","height":{"band":0.62}},"encoding":{"y":{"field":"name","type":"nominal","axis":null},"x":{"field":"pct","type":"quantitative","stack":"zero","scale":{"domain":[-6.5,112],"nice":false,"zero":false},"axis":null},"color":{"field":"cat","type":"nominal","scale":{"domain":["c1","c2","c3","c4","c5"],"range":["#4f86cf","#a8d3f4","#f6cfb9","#e0703a","#bfbfbf"]},"legend":null}}}
]},
{"width":150.6,"height":485,"layer":[
{"data":{"name":"rows"},"mark":{"type":"rect","fill":"white","stroke":"#1a1a1a","strokeWidth":1.5},"encoding":{"y":{"field":"name","type":"nominal","scale":{"type":"band","domain":["axis","千葉市","中央区","花見川区","稲毛区","若葉区","緑区","美浜区","（区不明）","市川市","船橋市","習志野市","市原市","浦安市","その他市町村","無回答","全体","企業等アンケート"],"paddingInner":0,"paddingOuter":0},"axis":null},"x":{"value":0},"x2":{"value":"width"}}},
{"data":{"values":[{}]},"mark":{"type":"rect","fill":"white","stroke":"#1a1a1a","strokeWidth":1.5},"encoding":{"y":{"datum":"axis","type":"nominal"},"x":{"value":0},"x2":{"value":"width"}}},
{"data":{"name":"ticks"},"mark":{"type":"rule","stroke":"#b8b8b8","strokeWidth":1},"encoding":{"x":{"field":"t","type":"quantitative","scale":{"domain":[-6.5,112],"nice":false,"zero":false},"axis":null},"y":{"datum":"axis","type":"nominal","bandPosition":0.85},"y2":{"value":"height"}}},
{"data":{"values":[{}]},"mark":{"type":"rule","stroke":"#a0a0a0","strokeWidth":1},"encoding":{"x":{"datum":0,"type":"quantitative"},"x2":{"datum":100},"y":{"datum":"axis","type":"nominal","bandPosition":0.85}}},
{"data":{"name":"ticks"},"mark":{"type":"text","font":"Liberation Sans Narrow, DejaVu Sans Condensed, Liberation Sans","fontSize":9.5,"fill":"#444444","align":"center","baseline":"middle"},"encoding":{"x":{"field":"t","type":"quantitative"},"y":{"datum":"axis","type":"nominal","bandPosition":0.45},"text":{"field":"lab"}}},
{"data":{"values":[{}]},"mark":{"type":"rule","stroke":"#111111","strokeWidth":3},"encoding":{"y":{"datum":"axis","type":"nominal","bandPosition":0},"x":{"value":0},"x2":{"value":"width"}}},
{"data":{"name":"goals"},"transform":[{"filter":"datum.item=='A4'"},{"fold":["c1","c2","c3","c4","c5"],"as":["cat","pct"]}],"mark":{"type":"bar","height":{"band":0.62}},"encoding":{"y":{"field":"name","type":"nominal","axis":null},"x":{"field":"pct","type":"quantitative","stack":"zero","scale":{"domain":[-6.5,112],"nice":false,"zero":false},"axis":null},"color":{"field":"cat","type":"nominal","scale":{"domain":["c1","c2","c3","c4","c5"],"range":["#4f86cf","#a8d3f4","#f6cfb9","#e0703a","#bfbfbf"]},"legend":null}}}
]},
{"width":150.6,"height":485,"layer":[
{"data":{"name":"rows"},"mark":{"type":"rect","fill":"white","stroke":"#1a1a1a","strokeWidth":1.5},"encoding":{"y":{"field":"name","type":"nominal","scale":{"type":"band","domain":["axis","千葉市","中央区","花見川区","稲毛区","若葉区","緑区","美浜区","（区不明）","市川市","船橋市","習志野市","市原市","浦安市","その他市町村","無回答","全体","企業等アンケート"],"paddingInner":0,"paddingOuter":0},"axis":null},"x":{"value":0},"x2":{"value":"width"}}},
{"data":{"values":[{}]},"mark":{"type":"rect","fill":"white","stroke":"#1a1a1a","strokeWidth":1.5},"encoding":{"y":{"datum":"axis","type":"nominal"},"x":{"value":0},"x2":{"value":"width"}}},
{"data":{"name":"ticks"},"mark":{"type":"rule","stroke":"#b8b8b8","strokeWidth":1},"encoding":{"x":{"field":"t","type":"quantitative","scale":{"domain":[-6.5,112],"nice":false,"zero":false},"axis":null},"y":{"datum":"axis","type":"nominal","bandPosition":0.85},"y2":{"value":"height"}}},
{"data":{"values":[{}]},"mark":{"type":"rule","stroke":"#a0a0a0","strokeWidth":1},"encoding":{"x":{"datum":0,"type":"quantitative"},"x2":{"datum":100},"y":{"datum":"axis","type":"nominal","bandPosition":0.85}}},
{"data":{"name":"ticks"},"mark":{"type":"text","font":"Liberation Sans Narrow, DejaVu Sans Condensed, Liberation Sans","fontSize":9.5,"fill":"#444444","align":"center","baseline":"middle"},"encoding":{"x":{"field":"t","type":"quantitative"},"y":{"datum":"axis","type":"nominal","bandPosition":0.45},"text":{"field":"lab"}}},
{"data":{"values":[{}]},"mark":{"type":"rule","stroke":"#111111","strokeWidth":3},"encoding":{"y":{"datum":"axis","type":"nominal","bandPosition":0},"x":{"value":0},"x2":{"value":"width"}}},
{"data":{"name":"goals"},"transform":[{"filter":"datum.item=='A5'"},{"fold":["c1","c2","c3","c4","c5"],"as":["cat","pct"]}],"mark":{"type":"bar","height":{"band":0.62}},"encoding":{"y":{"field":"name","type":"nominal","axis":null},"x":{"field":"pct","type":"quantitative","stack":"zero","scale":{"domain":[-6.5,112],"nice":false,"zero":false},"axis":null},"color":{"field":"cat","type":"nominal","scale":{"domain":["c1","c2","c3","c4","c5"],"range":["#4f86cf","#a8d3f4","#f6cfb9","#e0703a","#bfbfbf"]},"legend":null}}}
]},
{"width":150.6,"height":485,"layer":[
{"data":{"name":"rows"},"mark":{"type":"rect","fill":"white","stroke":"#1a1a1a","strokeWidth":1.5},"encoding":{"y":{"field":"name","type":"nominal","scale":{"type":"band","domain":["axis","千葉市","中央区","花見川区","稲毛区","若葉区","緑区","美浜区","（区不明）","市川市","船橋市","習志野市","市原市","浦安市","その他市町村","無回答","全体","企業等アンケート"],"paddingInner":0,"paddingOuter":0},"axis":null},"x":{"value":0},"x2":{"value":"width"}}},
{"data":{"values":[{}]},"mark":{"type":"rect","fill":"white","stroke":"#1a1a1a","strokeWidth":1.5},"encoding":{"y":{"datum":"axis","type":"nominal"},"x":{"value":0},"x2":{"value":"width"}}},
{"data":{"name":"ticks"},"mark":{"type":"rule","stroke":"#b8b8b8","strokeWidth":1},"encoding":{"x":{"field":"t","type":"quantitative","scale":{"domain":[-6.5,112],"nice":false,"zero":false},"axis":null},"y":{"datum":"axis","type":"nominal","bandPosition":0.85},"y2":{"value":"height"}}},
{"data":{"values":[{}]},"mark":{"type":"rule","stroke":"#a0a0a0","strokeWidth":1},"encoding":{"x":{"datum":0,"type":"quantitative"},"x2":{"datum":100},"y":{"datum":"axis","type":"nominal","bandPosition":0.85}}},
{"data":{"name":"ticks"},"mark":{"type":"text","font":"Liberation Sans Narrow, DejaVu Sans Condensed, Liberation Sans","fontSize":9.5,"fill":"#444444","align":"center","baseline":"middle"},"encoding":{"x":{"field":"t","type":"quantitative"},"y":{"datum":"axis","type":"nominal","bandPosition":0.45},"text":{"field":"lab"}}},
{"data":{"values":[{}]},"mark":{"type":"rule","stroke":"#111111","strokeWidth":3},"encoding":{"y":{"datum":"axis","type":"nominal","bandPosition":0},"x":{"value":0},"x2":{"value":"width"}}},
{"data":{"name":"goals"},"transform":[{"filter":"datum.item=='A6'"},{"fold":["c1","c2","c3","c4","c5"],"as":["cat","pct"]}],"mark":{"type":"bar","height":{"band":0.62}},"encoding":{"y":{"field":"name","type":"nominal","axis":null},"x":{"field":"pct","type":"quantitative","stack":"zero","scale":{"domain":[-6.5,112],"nice":false,"zero":false},"axis":null},"color":{"field":"cat","type":"nominal","scale":{"domain":["c1","c2","c3","c4","c5"],"range":["#4f86cf","#a8d3f4","#f6cfb9","#e0703a","#bfbfbf"]},"legend":null}}}
]},
{"width":150.6,"height":485,"layer":[
{"data":{"name":"rows"},"mark":{"type":"rect","fill":"white","stroke":"#1a1a1a","strokeWidth":1.5},"encoding":{"y":{"field":"name","type":"nominal","scale":{"type":"band","domain":["axis","千葉市","中央区","花見川区","稲毛区","若葉区","緑区","美浜区","（区不明）","市川市","船橋市","習志野市","市原市","浦安市","その他市町村","無回答","全体","企業等アンケート"],"paddingInner":0,"paddingOuter":0},"axis":null},"x":{"value":0},"x2":{"value":"width"}}},
{"data":{"values":[{}]},"mark":{"type":"rect","fill":"white","stroke":"#1a1a1a","strokeWidth":1.5},"encoding":{"y":{"datum":"axis","type":"nominal"},"x":{"value":0},"x2":{"value":"width"}}},
{"data":{"name":"ticks"},"mark":{"type":"rule","stroke":"#b8b8b8","strokeWidth":1},"encoding":{"x":{"field":"t","type":"quantitative","scale":{"domain":[-6.5,112],"nice":false,"zero":false},"axis":null},"y":{"datum":"axis","type":"nominal","bandPosition":0.85},"y2":{"value":"height"}}},
{"data":{"values":[{}]},"mark":{"type":"rule","stroke":"#a0a0a0","strokeWidth":1},"encoding":{"x":{"datum":0,"type":"quantitative"},"x2":{"datum":100},"y":{"datum":"axis","type":"nominal","bandPosition":0.85}}},
{"data":{"name":"ticks"},"mark":{"type":"text","font":"Liberation Sans Narrow, DejaVu Sans Condensed, Liberation Sans","fontSize":9.5,"fill":"#444444","align":"center","baseline":"middle"},"encoding":{"x":{"field":"t","type":"quantitative"},"y":{"datum":"axis","type":"nominal","bandPosition":0.45},"text":{"field":"lab"}}},
{"data":{"values":[{}]},"mark":{"type":"rule","stroke":"#111111","strokeWidth":3},"encoding":{"y":{"datum":"axis","type":"nominal","bandPosition":0},"x":{"value":0},"x2":{"value":"width"}}},
{"data":{"name":"goals"},"transform":[{"filter":"datum.item=='A7'"},{"fold":["c1","c2","c3","c4","c5"],"as":["cat","pct"]}],"mark":{"type":"bar","height":{"band":0.62}},"encoding":{"y":{"field":"name","type":"nominal","axis":null},"x":{"field":"pct","type":"quantitative","stack":"zero","scale":{"domain":[-6.5,112],"nice":false,"zero":false},"axis":null},"color":{"field":"cat","type":"nominal","scale":{"domain":["c1","c2","c3","c4","c5"],"range":["#4f86cf","#a8d3f4","#f6cfb9","#e0703a","#bfbfbf"]},"legend":null}}}
]},
{"width":150.6,"height":485,"layer":[
{"data":{"name":"rows"},"mark":{"type":"rect","fill":"white","stroke":"#1a1a1a","strokeWidth":1.5},"encoding":{"y":{"field":"name","type":"nominal","scale":{"type":"band","domain":["axis","千葉市","中央区","花見川区","稲毛区","若葉区","緑区","美浜区","（区不明）","市川市","船橋市","習志野市","市原市","浦安市","その他市町村","無回答","全体","企業等アンケート"],"paddingInner":0,"paddingOuter":0},"axis":null},"x":{"value":0},"x2":{"value":"width"}}},
{"data":{"values":[{}]},"mark":{"type":"rect","fill":"white","stroke":"#1a1a1a","strokeWidth":1.5},"encoding":{"y":{"datum":"axis","type":"nominal"},"x":{"value":0},"x2":{"value":"width"}}},
{"data":{"name":"ticks"},"mark":{"type":"rule","stroke":"#b8b8b8","strokeWidth":1},"encoding":{"x":{"field":"t","type":"quantitative","scale":{"domain":[-6.5,112],"nice":false,"zero":false},"axis":null},"y":{"datum":"axis","type":"nominal","bandPosition":0.85},"y2":{"value":"height"}}},
{"data":{"values":[{}]},"mark":{"type":"rule","stroke":"#a0a0a0","strokeWidth":1},"encoding":{"x":{"datum":0,"type":"quantitative"},"x2":{"datum":100},"y":{"datum":"axis","type":"nominal","bandPosition":0.85}}},
{"data":{"name":"ticks"},"mark":{"type":"text","font":"Liberation Sans Narrow, DejaVu Sans Condensed, Liberation Sans","fontSize":9.5,"fill":"#444444","align":"center","baseline":"middle"},"encoding":{"x":{"field":"t","type":"quantitative"},"y":{"datum":"axis","type":"nominal","bandPosition":0.45},"text":{"field":"lab"}}},
{"data":{"values":[{}]},"mark":{"type":"rule","stroke":"#111111","strokeWidth":3},"encoding":{"y":{"datum":"axis","type":"nominal","bandPosition":0},"x":{"value":0},"x2":{"value":"width"}}},
{"data":{"name":"goals"},"transform":[{"filter":"datum.item=='A8'"},{"fold":["c1","c2","c3","c4","c5"],"as":["cat","pct"]}],"mark":{"type":"bar","height":{"band":0.62}},"encoding":{"y":{"field":"name","type":"nominal","axis":null},"x":{"field":"pct","type":"quantitative","stack":"zero","scale":{"domain":[-6.5,112],"nice":false,"zero":false},"axis":null},"color":{"field":"cat","type":"nominal","scale":{"domain":["c1","c2","c3","c4","c5"],"range":["#4f86cf","#a8d3f4","#f6cfb9","#e0703a","#bfbfbf"]},"legend":null}}}
]}
],"spacing":0,"bounds":"flush","resolve":{"legend":{"color":"independent"}}}
]},
{"title":{"text":"配慮すべきことの重要度"},"spacing":0,"resolve":{"legend":{"color":"independent"}},
"vconcat":[
{"hconcat":[
{"width":137,"height":66,"data":{"values":[{}]},"mark":{"type":"rect","fill":"white","opacity":0},"encoding":{"x":{"value":0},"x2":{"value":"width"},"y":{"value":0},"y2":{"value":"height"}}},
{"width":55,"height":66,"data":{"values":[{}]},"encoding":{"x":{"datum":"h","type":"nominal","scale":{"type":"band","paddingInner":0,"paddingOuter":0},"axis":null},"y":{"datum":"h","type":"nominal","scale":{"type":"band","paddingInner":0,"paddingOuter":0},"axis":null}},"layer":[
{"mark":{"type":"rect","fill":"white"}},
{"mark":{"type":"rule","stroke":"#1a1a1a","strokeWidth":1.5},"encoding":{"x":{"value":0},"y":{"value":0},"y2":{"value":"height"}}},
{"mark":{"type":"rule","stroke":"#1a1a1a","strokeWidth":1.5},"encoding":{"x":{"value":"width"},"y":{"value":0},"y2":{"value":"height"}}},
{"mark":{"type":"rule","stroke":"#1a1a1a","strokeWidth":2},"encoding":{"x":{"value":0},"x2":{"value":"width"},"y":{"value":0}}},
{"mark":{"type":"text","text":"回答者数","fontSize":12,"fill":"#111111","align":"center","baseline":"middle"},"encoding":{"y":{"datum":"h","type":"nominal","bandPosition":0.7}}}
]},
{"width":1054.2,"height":66,"data":{"name":"careItems"},"encoding":{"x":{"field":"item","type":"nominal","sort":null,"scale":{"type":"band","paddingInner":0,"paddingOuter":0},"axis":null},"y":{"datum":"h","type":"nominal","scale":{"type":"band","paddingInner":0,"paddingOuter":0},"axis":null}},"layer":[
{"mark":{"type":"rect","fill":"#1f4e4f","stroke":"white","strokeWidth":2}},
{"transform":[{"filter":"indexof(datum.label, '\\n') >= 0"}],"mark":{"type":"text","fill":"white","fontSize":13,"lineBreak":"\n","lineHeight":27,"dy":-13.5,"align":"center","baseline":"middle"},"encoding":{"text":{"field":"label"}}},
{"transform":[{"filter":"indexof(datum.label, '\\n') < 0"}],"mark":{"type":"text","fill":"white","fontSize":13,"align":"center","baseline":"middle"},"encoding":{"text":{"field":"label"}}}
]}
],"spacing":0,"bounds":"flush"},
{"hconcat":[
{"width":23,"height":485,"layer":[
{"data":{"name":"rows"},"mark":{"type":"rect","fill":"#1f4e4f","stroke":"#1f4e4f","strokeWidth":0.5},"encoding":{"y":{"field":"name","type":"nominal","scale":{"type":"band","domain":["axis","千葉市","中央区","花見川区","稲毛区","若葉区","緑区","美浜区","（区不明）","市川市","船橋市","習志野市","市原市","浦安市","その他市町村","無回答","全体","企業等アンケート"],"paddingInner":0,"paddingOuter":0},"axis":null},"x":{"value":0},"x2":{"value":"width"}}},
{"data":{"values":[{}]},"mark":{"type":"rule","stroke":"white","strokeWidth":3},"encoding":{"y":{"datum":"企業等アンケート","type":"nominal","bandPosition":0},"x":{"value":0},"x2":{"value":"width"}}},
{"data":{"values":[{}]},"mark":{"type":"rule","stroke":"white","strokeWidth":5},"encoding":{"x":{"value":"width"},"y":{"datum":"千葉市","type":"nominal","bandPosition":0},"y2":{"datum":"全体","bandPosition":1}}},
{"data":{"values":[{}]},"mark":{"type":"text","text":"市\n民\nア\nン\nケ\n｜\nト","lineBreak":"\n","lineHeight":23,"dy":-69,"fontSize":14,"fill":"white","align":"center","baseline":"middle"},"encoding":{"x":{"datum":"c","type":"nominal","scale":{"type":"band","paddingInner":0,"paddingOuter":0},"axis":null},"y":{"datum":"（区不明）","type":"nominal","bandPosition":1}}}
]},
{"width":22,"height":485,"layer":[
{"data":{"name":"rows"},"mark":{"type":"rect","strokeWidth":0.5},"encoding":{"y":{"field":"name","type":"nominal","scale":{"type":"band","domain":["axis","千葉市","中央区","花見川区","稲毛区","若葉区","緑区","美浜区","（区不明）","市川市","船橋市","習志野市","市原市","浦安市","その他市町村","無回答","全体","企業等アンケート"],"paddingInner":0,"paddingOuter":0},"axis":null},"x":{"value":0},"x2":{"value":"width"},"fill":{"condition":{"test":"datum.lv=='firm'","value":"#1f4e4f"},"value":"#a9bfc3"},"stroke":{"condition":{"test":"datum.lv=='firm'","value":"#1f4e4f"},"value":"#a9bfc3"}}},
{"data":{"name":"rows"},"transform":[{"filter":"indexof(['千葉市','その他市町村','全体','企業等アンケート'], datum.name) >= 0"}],"mark":{"type":"rule","stroke":"#1a1a1a","strokeWidth":1.5},"encoding":{"y":{"field":"name","type":"nominal","bandPosition":0},"x":{"value":0},"x2":{"value":"width"}}},
{"data":{"values":[{}]},"mark":{"type":"rule","stroke":"#1a1a1a","strokeWidth":1.5},"encoding":{"y":{"datum":"企業等アンケート","type":"nominal","bandPosition":1},"x":{"value":0},"x2":{"value":"width"}}},
{"data":{"values":[{}]},"mark":{"type":"rule","stroke":"#1a1a1a","strokeWidth":1.5},"encoding":{"x":{"value":"width"},"y":{"datum":"千葉市","type":"nominal","bandPosition":0},"y2":{"datum":"無回答","bandPosition":1}}},
{"data":{"values":[{}]},"mark":{"type":"text","text":"沿\n線\n6\n市","lineBreak":"\n","lineHeight":23,"dy":-34.5,"fontSize":14,"fill":"#111111","align":"center","baseline":"middle"},"encoding":{"x":{"datum":"c","type":"nominal","scale":{"type":"band","paddingInner":0,"paddingOuter":0},"axis":null},"y":{"datum":"美浜区","type":"nominal","bandPosition":0.5}}},
{"data":{"values":[{}]},"mark":{"type":"text","text":"他","fontSize":14,"fill":"#111111","align":"center","baseline":"middle"},"encoding":{"x":{"datum":"c","type":"nominal"},"y":{"datum":"その他市町村","type":"nominal","bandPosition":1}}}
]},
{"width":12,"height":485,"layer":[
{"data":{"name":"rows"},"mark":{"type":"rect","strokeWidth":0.5},"encoding":{"y":{"field":"name","type":"nominal","scale":{"type":"band","domain":["axis","千葉市","中央区","花見川区","稲毛区","若葉区","緑区","美浜区","（区不明）","市川市","船橋市","習志野市","市原市","浦安市","その他市町村","無回答","全体","企業等アンケート"],"paddingInner":0,"paddingOuter":0},"axis":null},"x":{"value":0},"x2":{"value":"width"},"fill":{"condition":[{"test":"datum.lv=='firm'","value":"#1f4e4f"},{"test":"datum.lv=='total'","value":"#a9bfc3"}],"value":"#dfeaee"},"stroke":{"condition":[{"test":"datum.lv=='firm'","value":"#1f4e4f"},{"test":"datum.lv=='total'","value":"#a9bfc3"}],"value":"#dfeaee"}}},
{"data":{"name":"rows"},"transform":[{"filter":"datum.lv != 'ward'"}],"mark":{"type":"rule","stroke":"#1a1a1a","strokeWidth":1.5},"encoding":{"y":{"field":"name","type":"nominal","bandPosition":0},"x":{"value":0},"x2":{"value":"width"}}},
{"data":{"values":[{}]},"mark":{"type":"rule","stroke":"#1a1a1a","strokeWidth":1.5},"encoding":{"y":{"datum":"企業等アンケート","type":"nominal","bandPosition":1},"x":{"value":0},"x2":{"value":"width"}}},
{"data":{"values":[{}]},"mark":{"type":"rule","stroke":"#1a1a1a","strokeWidth":1.5},"encoding":{"x":{"value":"width"},"y":{"datum":"中央区","type":"nominal","bandPosition":0},"y2":{"datum":"（区不明）","bandPosition":1}}}
]},
{"width":80,"height":485,"layer":[
{"data":{"name":"rows"},"mark":{"type":"rect","strokeWidth":0.5},"encoding":{"y":{"field":"name","type":"nominal","scale":{"type":"band","domain":["axis","千葉市","中央区","花見川区","稲毛区","若葉区","緑区","美浜区","（区不明）","市川市","船橋市","習志野市","市原市","浦安市","その他市町村","無回答","全体","企業等アンケート"],"paddingInner":0,"paddingOuter":0},"axis":null},"x":{"value":0},"x2":{"value":"width"},"fill":{"condition":[{"test":"datum.lv=='firm'","value":"#1f4e4f"},{"test":"datum.lv=='total'","value":"#a9bfc3"}],"value":"#dfeaee"},"stroke":{"condition":[{"test":"datum.lv=='firm'","value":"#1f4e4f"},{"test":"datum.lv=='total'","value":"#a9bfc3"}],"value":"#dfeaee"}}},
{"data":{"name":"rows"},"mark":{"type":"rule","stroke":"#1a1a1a","strokeWidth":1.5},"encoding":{"y":{"field":"name","type":"nominal","bandPosition":0},"x":{"value":0},"x2":{"value":"width"}}},
{"data":{"values":[{}]},"mark":{"type":"rule","stroke":"#1a1a1a","strokeWidth":1.5},"encoding":{"y":{"datum":"企業等アンケート","type":"nominal","bandPosition":1},"x":{"value":0},"x2":{"value":"width"}}},
{"data":{"name":"rows"},"transform":[{"filter":"datum.lv=='city' || datum.lv=='other'"}],"mark":{"type":"text","fontSize":13,"fill":"#111111","align":"left","baseline":"middle","dx":-9},"encoding":{"y":{"field":"name","type":"nominal"},"x":{"value":0},"text":{"field":"name"}}},
{"data":{"name":"rows"},"transform":[{"filter":"datum.lv=='ward'"}],"mark":{"type":"text","fontSize":13,"fill":"#111111","align":"left","baseline":"middle","dx":3},"encoding":{"y":{"field":"name","type":"nominal"},"x":{"value":0},"text":{"field":"name"}}},
{"data":{"name":"rows"},"transform":[{"filter":"datum.lv=='total'"}],"mark":{"type":"text","fontSize":13,"fill":"#111111","align":"center","baseline":"middle","dx":23},"encoding":{"y":{"field":"name","type":"nominal"},"x":{"value":0},"text":{"field":"name"}}},
{"data":{"name":"rows"},"transform":[{"filter":"datum.lv=='firm'"}],"mark":{"type":"text","fontSize":13,"fill":"white","align":"center","baseline":"middle","dx":11.5},"encoding":{"y":{"field":"name","type":"nominal"},"x":{"value":0},"text":{"field":"name"}}}
]},
{"width":55,"height":485,"layer":[
{"data":{"name":"rows"},"mark":{"type":"rect","fill":"white","stroke":"#1a1a1a","strokeWidth":1.5},"encoding":{"y":{"field":"name","type":"nominal","scale":{"type":"band","domain":["axis","千葉市","中央区","花見川区","稲毛区","若葉区","緑区","美浜区","（区不明）","市川市","船橋市","習志野市","市原市","浦安市","その他市町村","無回答","全体","企業等アンケート"],"paddingInner":0,"paddingOuter":0},"axis":null},"x":{"value":0},"x2":{"value":"width"}}},
{"data":{"values":[{}]},"mark":{"type":"rule","stroke":"#1a1a1a","strokeWidth":1.5},"encoding":{"x":{"value":0},"y":{"datum":"axis","type":"nominal","bandPosition":0},"y2":{"datum":"千葉市","bandPosition":0}}},
{"data":{"values":[{}]},"mark":{"type":"rule","stroke":"#1a1a1a","strokeWidth":1.5},"encoding":{"x":{"value":"width"},"y":{"datum":"axis","type":"nominal","bandPosition":0},"y2":{"datum":"千葉市","bandPosition":0}}},
{"data":{"name":"rows"},"mark":{"type":"text","font":"Liberation Sans Narrow, DejaVu Sans Condensed, Liberation Sans","fontSize":14,"fill":"#111111","align":"right","baseline":"middle","dx":-5},"encoding":{"y":{"field":"name","type":"nominal"},"x":{"value":"width"},"text":{"field":"n","format":","}}}
]},
{"width":150.6,"height":485,"layer":[
{"data":{"name":"rows"},"mark":{"type":"rect","fill":"white","stroke":"#1a1a1a","strokeWidth":1.5},"encoding":{"y":{"field":"name","type":"nominal","scale":{"type":"band","domain":["axis","千葉市","中央区","花見川区","稲毛区","若葉区","緑区","美浜区","（区不明）","市川市","船橋市","習志野市","市原市","浦安市","その他市町村","無回答","全体","企業等アンケート"],"paddingInner":0,"paddingOuter":0},"axis":null},"x":{"value":0},"x2":{"value":"width"}}},
{"data":{"values":[{}]},"mark":{"type":"rect","fill":"white","stroke":"#1a1a1a","strokeWidth":1.5},"encoding":{"y":{"datum":"axis","type":"nominal"},"x":{"value":0},"x2":{"value":"width"}}},
{"data":{"name":"ticks"},"mark":{"type":"rule","stroke":"#b8b8b8","strokeWidth":1},"encoding":{"x":{"field":"t","type":"quantitative","scale":{"domain":[-6.5,112],"nice":false,"zero":false},"axis":null},"y":{"datum":"axis","type":"nominal","bandPosition":0.85},"y2":{"value":"height"}}},
{"data":{"values":[{}]},"mark":{"type":"rule","stroke":"#a0a0a0","strokeWidth":1},"encoding":{"x":{"datum":0,"type":"quantitative"},"x2":{"datum":100},"y":{"datum":"axis","type":"nominal","bandPosition":0.85}}},
{"data":{"name":"ticks"},"mark":{"type":"text","font":"Liberation Sans Narrow, DejaVu Sans Condensed, Liberation Sans","fontSize":9.5,"fill":"#444444","align":"center","baseline":"middle"},"encoding":{"x":{"field":"t","type":"quantitative"},"y":{"datum":"axis","type":"nominal","bandPosition":0.45},"text":{"field":"lab"}}},
{"data":{"values":[{}]},"mark":{"type":"rule","stroke":"#111111","strokeWidth":3},"encoding":{"y":{"datum":"axis","type":"nominal","bandPosition":0},"x":{"value":0},"x2":{"value":"width"}}},
{"data":{"name":"care"},"transform":[{"filter":"datum.item=='B1'"},{"fold":["c1","c2","c3","c4","c5"],"as":["cat","pct"]}],"mark":{"type":"bar","height":{"band":0.62}},"encoding":{"y":{"field":"name","type":"nominal","axis":null},"x":{"field":"pct","type":"quantitative","stack":"zero","scale":{"domain":[-6.5,112],"nice":false,"zero":false},"axis":null},"color":{"field":"cat","type":"nominal","scale":{"domain":["c1","c2","c3","c4","c5"],"range":["#4f86cf","#a8d3f4","#f6cfb9","#e0703a","#bfbfbf"]},"legend":null}}}
]},
{"width":150.6,"height":485,"layer":[
{"data":{"name":"rows"},"mark":{"type":"rect","fill":"white","stroke":"#1a1a1a","strokeWidth":1.5},"encoding":{"y":{"field":"name","type":"nominal","scale":{"type":"band","domain":["axis","千葉市","中央区","花見川区","稲毛区","若葉区","緑区","美浜区","（区不明）","市川市","船橋市","習志野市","市原市","浦安市","その他市町村","無回答","全体","企業等アンケート"],"paddingInner":0,"paddingOuter":0},"axis":null},"x":{"value":0},"x2":{"value":"width"}}},
{"data":{"values":[{}]},"mark":{"type":"rect","fill":"white","stroke":"#1a1a1a","strokeWidth":1.5},"encoding":{"y":{"datum":"axis","type":"nominal"},"x":{"value":0},"x2":{"value":"width"}}},
{"data":{"name":"ticks"},"mark":{"type":"rule","stroke":"#b8b8b8","strokeWidth":1},"encoding":{"x":{"field":"t","type":"quantitative","scale":{"domain":[-6.5,112],"nice":false,"zero":false},"axis":null},"y":{"datum":"axis","type":"nominal","bandPosition":0.85},"y2":{"value":"height"}}},
{"data":{"values":[{}]},"mark":{"type":"rule","stroke":"#a0a0a0","strokeWidth":1},"encoding":{"x":{"datum":0,"type":"quantitative"},"x2":{"datum":100},"y":{"datum":"axis","type":"nominal","bandPosition":0.85}}},
{"data":{"name":"ticks"},"mark":{"type":"text","font":"Liberation Sans Narrow, DejaVu Sans Condensed, Liberation Sans","fontSize":9.5,"fill":"#444444","align":"center","baseline":"middle"},"encoding":{"x":{"field":"t","type":"quantitative"},"y":{"datum":"axis","type":"nominal","bandPosition":0.45},"text":{"field":"lab"}}},
{"data":{"values":[{}]},"mark":{"type":"rule","stroke":"#111111","strokeWidth":3},"encoding":{"y":{"datum":"axis","type":"nominal","bandPosition":0},"x":{"value":0},"x2":{"value":"width"}}},
{"data":{"name":"care"},"transform":[{"filter":"datum.item=='B2'"},{"fold":["c1","c2","c3","c4","c5"],"as":["cat","pct"]}],"mark":{"type":"bar","height":{"band":0.62}},"encoding":{"y":{"field":"name","type":"nominal","axis":null},"x":{"field":"pct","type":"quantitative","stack":"zero","scale":{"domain":[-6.5,112],"nice":false,"zero":false},"axis":null},"color":{"field":"cat","type":"nominal","scale":{"domain":["c1","c2","c3","c4","c5"],"range":["#4f86cf","#a8d3f4","#f6cfb9","#e0703a","#bfbfbf"]},"legend":null}}}
]},
{"width":150.6,"height":485,"layer":[
{"data":{"name":"rows"},"mark":{"type":"rect","fill":"white","stroke":"#1a1a1a","strokeWidth":1.5},"encoding":{"y":{"field":"name","type":"nominal","scale":{"type":"band","domain":["axis","千葉市","中央区","花見川区","稲毛区","若葉区","緑区","美浜区","（区不明）","市川市","船橋市","習志野市","市原市","浦安市","その他市町村","無回答","全体","企業等アンケート"],"paddingInner":0,"paddingOuter":0},"axis":null},"x":{"value":0},"x2":{"value":"width"}}},
{"data":{"values":[{}]},"mark":{"type":"rect","fill":"white","stroke":"#1a1a1a","strokeWidth":1.5},"encoding":{"y":{"datum":"axis","type":"nominal"},"x":{"value":0},"x2":{"value":"width"}}},
{"data":{"name":"ticks"},"mark":{"type":"rule","stroke":"#b8b8b8","strokeWidth":1},"encoding":{"x":{"field":"t","type":"quantitative","scale":{"domain":[-6.5,112],"nice":false,"zero":false},"axis":null},"y":{"datum":"axis","type":"nominal","bandPosition":0.85},"y2":{"value":"height"}}},
{"data":{"values":[{}]},"mark":{"type":"rule","stroke":"#a0a0a0","strokeWidth":1},"encoding":{"x":{"datum":0,"type":"quantitative"},"x2":{"datum":100},"y":{"datum":"axis","type":"nominal","bandPosition":0.85}}},
{"data":{"name":"ticks"},"mark":{"type":"text","font":"Liberation Sans Narrow, DejaVu Sans Condensed, Liberation Sans","fontSize":9.5,"fill":"#444444","align":"center","baseline":"middle"},"encoding":{"x":{"field":"t","type":"quantitative"},"y":{"datum":"axis","type":"nominal","bandPosition":0.45},"text":{"field":"lab"}}},
{"data":{"values":[{}]},"mark":{"type":"rule","stroke":"#111111","strokeWidth":3},"encoding":{"y":{"datum":"axis","type":"nominal","bandPosition":0},"x":{"value":0},"x2":{"value":"width"}}},
{"data":{"name":"care"},"transform":[{"filter":"datum.item=='B3'"},{"fold":["c1","c2","c3","c4","c5"],"as":["cat","pct"]}],"mark":{"type":"bar","height":{"band":0.62}},"encoding":{"y":{"field":"name","type":"nominal","axis":null},"x":{"field":"pct","type":"quantitative","stack":"zero","scale":{"domain":[-6.5,112],"nice":false,"zero":false},"axis":null},"color":{"field":"cat","type":"nominal","scale":{"domain":["c1","c2","c3","c4","c5"],"range":["#4f86cf","#a8d3f4","#f6cfb9","#e0703a","#bfbfbf"]},"legend":null}}}
]},
{"width":150.6,"height":485,"layer":[
{"data":{"name":"rows"},"mark":{"type":"rect","fill":"white","stroke":"#1a1a1a","strokeWidth":1.5},"encoding":{"y":{"field":"name","type":"nominal","scale":{"type":"band","domain":["axis","千葉市","中央区","花見川区","稲毛区","若葉区","緑区","美浜区","（区不明）","市川市","船橋市","習志野市","市原市","浦安市","その他市町村","無回答","全体","企業等アンケート"],"paddingInner":0,"paddingOuter":0},"axis":null},"x":{"value":0},"x2":{"value":"width"}}},
{"data":{"values":[{}]},"mark":{"type":"rect","fill":"white","stroke":"#1a1a1a","strokeWidth":1.5},"encoding":{"y":{"datum":"axis","type":"nominal"},"x":{"value":0},"x2":{"value":"width"}}},
{"data":{"name":"ticks"},"mark":{"type":"rule","stroke":"#b8b8b8","strokeWidth":1},"encoding":{"x":{"field":"t","type":"quantitative","scale":{"domain":[-6.5,112],"nice":false,"zero":false},"axis":null},"y":{"datum":"axis","type":"nominal","bandPosition":0.85},"y2":{"value":"height"}}},
{"data":{"values":[{}]},"mark":{"type":"rule","stroke":"#a0a0a0","strokeWidth":1},"encoding":{"x":{"datum":0,"type":"quantitative"},"x2":{"datum":100},"y":{"datum":"axis","type":"nominal","bandPosition":0.85}}},
{"data":{"name":"ticks"},"mark":{"type":"text","font":"Liberation Sans Narrow, DejaVu Sans Condensed, Liberation Sans","fontSize":9.5,"fill":"#444444","align":"center","baseline":"middle"},"encoding":{"x":{"field":"t","type":"quantitative"},"y":{"datum":"axis","type":"nominal","bandPosition":0.45},"text":{"field":"lab"}}},
{"data":{"values":[{}]},"mark":{"type":"rule","stroke":"#111111","strokeWidth":3},"encoding":{"y":{"datum":"axis","type":"nominal","bandPosition":0},"x":{"value":0},"x2":{"value":"width"}}},
{"data":{"name":"care"},"transform":[{"filter":"datum.item=='B4'"},{"fold":["c1","c2","c3","c4","c5"],"as":["cat","pct"]}],"mark":{"type":"bar","height":{"band":0.62}},"encoding":{"y":{"field":"name","type":"nominal","axis":null},"x":{"field":"pct","type":"quantitative","stack":"zero","scale":{"domain":[-6.5,112],"nice":false,"zero":false},"axis":null},"color":{"field":"cat","type":"nominal","scale":{"domain":["c1","c2","c3","c4","c5"],"range":["#4f86cf","#a8d3f4","#f6cfb9","#e0703a","#bfbfbf"]},"legend":null}}}
]},
{"width":150.6,"height":485,"layer":[
{"data":{"name":"rows"},"mark":{"type":"rect","fill":"white","stroke":"#1a1a1a","strokeWidth":1.5},"encoding":{"y":{"field":"name","type":"nominal","scale":{"type":"band","domain":["axis","千葉市","中央区","花見川区","稲毛区","若葉区","緑区","美浜区","（区不明）","市川市","船橋市","習志野市","市原市","浦安市","その他市町村","無回答","全体","企業等アンケート"],"paddingInner":0,"paddingOuter":0},"axis":null},"x":{"value":0},"x2":{"value":"width"}}},
{"data":{"values":[{}]},"mark":{"type":"rect","fill":"white","stroke":"#1a1a1a","strokeWidth":1.5},"encoding":{"y":{"datum":"axis","type":"nominal"},"x":{"value":0},"x2":{"value":"width"}}},
{"data":{"name":"ticks"},"mark":{"type":"rule","stroke":"#b8b8b8","strokeWidth":1},"encoding":{"x":{"field":"t","type":"quantitative","scale":{"domain":[-6.5,112],"nice":false,"zero":false},"axis":null},"y":{"datum":"axis","type":"nominal","bandPosition":0.85},"y2":{"value":"height"}}},
{"data":{"values":[{}]},"mark":{"type":"rule","stroke":"#a0a0a0","strokeWidth":1},"encoding":{"x":{"datum":0,"type":"quantitative"},"x2":{"datum":100},"y":{"datum":"axis","type":"nominal","bandPosition":0.85}}},
{"data":{"name":"ticks"},"mark":{"type":"text","font":"Liberation Sans Narrow, DejaVu Sans Condensed, Liberation Sans","fontSize":9.5,"fill":"#444444","align":"center","baseline":"middle"},"encoding":{"x":{"field":"t","type":"quantitative"},"y":{"datum":"axis","type":"nominal","bandPosition":0.45},"text":{"field":"lab"}}},
{"data":{"values":[{}]},"mark":{"type":"rule","stroke":"#111111","strokeWidth":3},"encoding":{"y":{"datum":"axis","type":"nominal","bandPosition":0},"x":{"value":0},"x2":{"value":"width"}}},
{"data":{"name":"care"},"transform":[{"filter":"datum.item=='B5'"},{"fold":["c1","c2","c3","c4","c5"],"as":["cat","pct"]}],"mark":{"type":"bar","height":{"band":0.62}},"encoding":{"y":{"field":"name","type":"nominal","axis":null},"x":{"field":"pct","type":"quantitative","stack":"zero","scale":{"domain":[-6.5,112],"nice":false,"zero":false},"axis":null},"color":{"field":"cat","type":"nominal","scale":{"domain":["c1","c2","c3","c4","c5"],"range":["#4f86cf","#a8d3f4","#f6cfb9","#e0703a","#bfbfbf"]},"legend":null}}}
]},
{"width":150.6,"height":485,"layer":[
{"data":{"name":"rows"},"mark":{"type":"rect","fill":"white","stroke":"#1a1a1a","strokeWidth":1.5},"encoding":{"y":{"field":"name","type":"nominal","scale":{"type":"band","domain":["axis","千葉市","中央区","花見川区","稲毛区","若葉区","緑区","美浜区","（区不明）","市川市","船橋市","習志野市","市原市","浦安市","その他市町村","無回答","全体","企業等アンケート"],"paddingInner":0,"paddingOuter":0},"axis":null},"x":{"value":0},"x2":{"value":"width"}}},
{"data":{"values":[{}]},"mark":{"type":"rect","fill":"white","stroke":"#1a1a1a","strokeWidth":1.5},"encoding":{"y":{"datum":"axis","type":"nominal"},"x":{"value":0},"x2":{"value":"width"}}},
{"data":{"name":"ticks"},"mark":{"type":"rule","stroke":"#b8b8b8","strokeWidth":1},"encoding":{"x":{"field":"t","type":"quantitative","scale":{"domain":[-6.5,112],"nice":false,"zero":false},"axis":null},"y":{"datum":"axis","type":"nominal","bandPosition":0.85},"y2":{"value":"height"}}},
{"data":{"values":[{}]},"mark":{"type":"rule","stroke":"#a0a0a0","strokeWidth":1},"encoding":{"x":{"datum":0,"type":"quantitative"},"x2":{"datum":100},"y":{"datum":"axis","type":"nominal","bandPosition":0.85}}},
{"data":{"name":"ticks"},"mark":{"type":"text","font":"Liberation Sans Narrow, DejaVu Sans Condensed, Liberation Sans","fontSize":9.5,"fill":"#444444","align":"center","baseline":"middle"},"encoding":{"x":{"field":"t","type":"quantitative"},"y":{"datum":"axis","type":"nominal","bandPosition":0.45},"text":{"field":"lab"}}},
{"data":{"values":[{}]},"mark":{"type":"rule","stroke":"#111111","strokeWidth":3},"encoding":{"y":{"datum":"axis","type":"nominal","bandPosition":0},"x":{"value":0},"x2":{"value":"width"}}},
{"data":{"name":"care"},"transform":[{"filter":"datum.item=='B6'"},{"fold":["c1","c2","c3","c4","c5"],"as":["cat","pct"]}],"mark":{"type":"bar","height":{"band":0.62}},"encoding":{"y":{"field":"name","type":"nominal","axis":null},"x":{"field":"pct","type":"quantitative","stack":"zero","scale":{"domain":[-6.5,112],"nice":false,"zero":false},"axis":null},"color":{"field":"cat","type":"nominal","scale":{"domain":["c1","c2","c3","c4","c5"],"range":["#4f86cf","#a8d3f4","#f6cfb9","#e0703a","#bfbfbf"]},"legend":null}}}
]},
{"width":150.6,"height":485,"layer":[
{"data":{"name":"rows"},"mark":{"type":"rect","fill":"white","stroke":"#1a1a1a","strokeWidth":1.5},"encoding":{"y":{"field":"name","type":"nominal","scale":{"type":"band","domain":["axis","千葉市","中央区","花見川区","稲毛区","若葉区","緑区","美浜区","（区不明）","市川市","船橋市","習志野市","市原市","浦安市","その他市町村","無回答","全体","企業等アンケート"],"paddingInner":0,"paddingOuter":0},"axis":null},"x":{"value":0},"x2":{"value":"width"}}},
{"data":{"values":[{}]},"mark":{"type":"rect","fill":"white","stroke":"#1a1a1a","strokeWidth":1.5},"encoding":{"y":{"datum":"axis","type":"nominal"},"x":{"value":0},"x2":{"value":"width"}}},
{"data":{"name":"ticks"},"mark":{"type":"rule","stroke":"#b8b8b8","strokeWidth":1},"encoding":{"x":{"field":"t","type":"quantitative","scale":{"domain":[-6.5,112],"nice":false,"zero":false},"axis":null},"y":{"datum":"axis","type":"nominal","bandPosition":0.85},"y2":{"value":"height"}}},
{"data":{"values":[{}]},"mark":{"type":"rule","stroke":"#a0a0a0","strokeWidth":1},"encoding":{"x":{"datum":0,"type":"quantitative"},"x2":{"datum":100},"y":{"datum":"axis","type":"nominal","bandPosition":0.85}}},
{"data":{"name":"ticks"},"mark":{"type":"text","font":"Liberation Sans Narrow, DejaVu Sans Condensed, Liberation Sans","fontSize":9.5,"fill":"#444444","align":"center","baseline":"middle"},"encoding":{"x":{"field":"t","type":"quantitative"},"y":{"datum":"axis","type":"nominal","bandPosition":0.45},"text":{"field":"lab"}}},
{"data":{"values":[{}]},"mark":{"type":"rule","stroke":"#111111","strokeWidth":3},"encoding":{"y":{"datum":"axis","type":"nominal","bandPosition":0},"x":{"value":0},"x2":{"value":"width"}}},
{"data":{"name":"care"},"transform":[{"filter":"datum.item=='B7'"},{"fold":["c1","c2","c3","c4","c5"],"as":["cat","pct"]}],"mark":{"type":"bar","height":{"band":0.62}},"encoding":{"y":{"field":"name","type":"nominal","axis":null},"x":{"field":"pct","type":"quantitative","stack":"zero","scale":{"domain":[-6.5,112],"nice":false,"zero":false},"axis":null},"color":{"field":"cat","type":"nominal","scale":{"domain":["c1","c2","c3","c4","c5"],"range":["#4f86cf","#a8d3f4","#f6cfb9","#e0703a","#bfbfbf"]},"legend":{"orient":"none","legendX":155,"legendY":304,"title":null,"symbolType":"square","symbolSize":220,"symbolStrokeColor":"#999999","symbolStrokeWidth":1,"labelFont":"Noto Sans CJK JP","labelFontSize":11.5,"labelColor":"#333333","labelLimit":200,"labelOffset":7,"rowPadding":11,"padding":9,"strokeColor":"#8c8c8c","fillColor":"white","labelExpr":"datum.value=='c1'?'1.全くそう思わない':datum.value=='c2'?['2.どちらかというと','\u200b\u3000そう思わない']:datum.value=='c3'?['3.どちらかといえば','\u200b\u3000そう思う']:datum.value=='c4'?'4.強くそう思う':'無回答'"}}}}
]}
],"spacing":0,"bounds":"flush","resolve":{"legend":{"color":"independent"}}}
]}
]
}
